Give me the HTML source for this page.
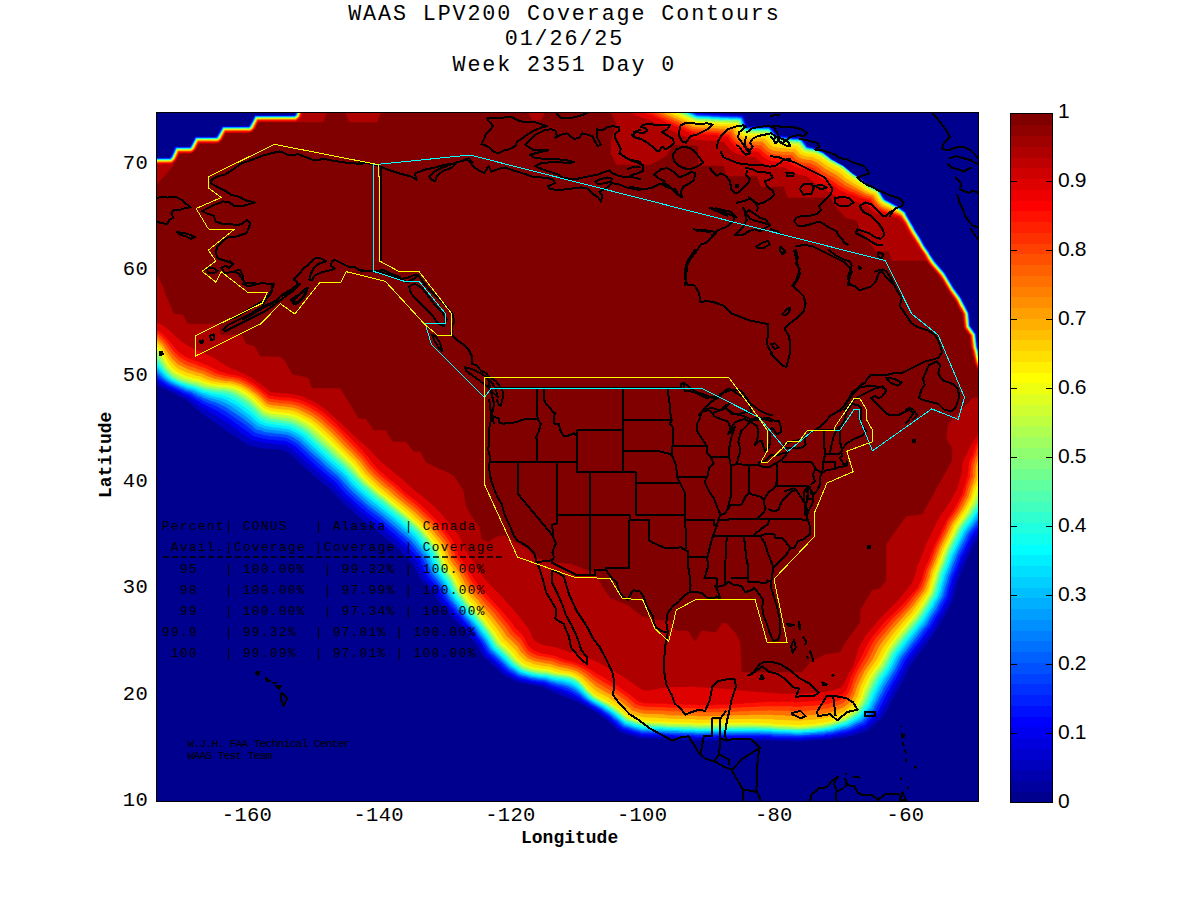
<!DOCTYPE html>
<html><head><meta charset="utf-8"><style>
html,body{margin:0;padding:0;background:#fff;}
body{width:1200px;height:900px;position:relative;overflow:hidden;}
.t{position:absolute;left:-2.6px;width:1134px;text-align:center;font-family:"Liberation Mono",monospace;font-size:21.7px;letter-spacing:1.9px;color:#000;white-space:pre;line-height:26px;}
.yl{position:absolute;left:90px;width:58px;text-align:right;font-family:"Liberation Mono",monospace;font-size:20.5px;letter-spacing:0.3px;line-height:23px;color:#000;}
.xl{position:absolute;top:804px;width:80px;text-align:center;font-family:"Liberation Mono",monospace;font-size:20.5px;letter-spacing:0.3px;line-height:23px;color:#000;}
.cbl{position:absolute;left:1058px;font-family:"Liberation Sans",sans-serif;font-size:21px;letter-spacing:-0.4px;line-height:23px;color:#000;}
.ax{position:absolute;font-family:"Liberation Mono",monospace;font-weight:bold;font-size:18px;line-height:20px;color:#000;white-space:pre;}
svg{position:absolute;left:0;top:0;}
</style></head><body>
<svg width="1200" height="900" viewBox="0 0 1200 900">
<defs><clipPath id="pc"><rect x="157" y="113" width="821" height="688"/></clipPath></defs>
<g clip-path="url(#pc)">
<rect x="150" y="100" width="840" height="710" fill="#00008f"/>
<path fill="#0000bf" d="M154.2 157.8 154.2 384.2 167.8 390.8 168.8 390.8 186.2 399.8 202.8 414.2 222.8 427.8 224.2 429.2 248.8 445.2 251.2 446.2 256.2 446.8 256.8 447.2 258.8 447.2 261.8 448.2 282.8 449.8 289.2 453.2 313.8 475.8 329.2 488.2 342.2 502.2 357.2 515.8 380.2 533.2 398.8 548.8 413.8 565.2 420.8 579.8 432.8 592.8 440.2 604.2 463.2 628.8 469.2 635.8 476.8 645.8 482.8 655.8 504.2 675.8 517.8 682.2 519.8 682.2 520.2 682.8 522.2 682.8 522.8 683.2 524.8 683.2 525.2 683.8 527.2 683.8 530.2 684.8 532.8 684.8 533.2 685.2 542.8 686.8 553.2 692.2 554.2 692.2 561.8 695.8 562.8 695.8 572.8 700.2 576.2 701.2 586.2 706.2 593.8 711.2 597.8 713.2 608.2 721.2 620.2 732.2 639.8 738.2 662.8 738.8 663.2 739.2 677.8 739.2 678.2 739.8 692.8 739.8 693.2 740.2 770.2 740.2 770.8 740.8 790.2 740.8 790.8 741.2 803.8 741.2 804.2 740.8 811.2 740.8 811.8 740.2 831.8 739.2 832.2 738.8 835.2 738.8 838.8 737.8 841.8 737.8 842.2 737.2 845.2 737.2 845.8 736.8 850.8 736.2 867.2 730.8 872.2 726.8 883.8 715.8 885.2 712.2 886.2 711.2 897.2 690.8 898.2 689.8 900.2 685.2 901.2 684.2 910.8 664.8 935.8 631.2 943.8 616.8 944.8 615.8 953.2 599.2 953.2 597.8 954.8 593.8 956.2 586.8 957.2 584.8 957.8 581.2 966.2 560.8 966.2 559.8 976.8 538.8 980.8 533.8 980.8 357.8 980.2 357.2 979.2 351.2 977.8 346.8 976.2 333.8 970.2 325.2 969.2 312.8 961.2 297.2 954.2 287.8 945.2 272.8 935.8 261.8 930.2 253.8 929.8 252.2 924.8 245.2 920.8 237.8 915.2 229.2 914.2 226.8 907.2 215.2 905.8 211.8 897.2 205.2 885.2 198.8 879.2 189.2 869.2 184.8 863.8 180.2 852.2 172.8 843.2 165.2 832.2 159.2 823.2 151.8 815.8 147.8 814.2 147.8 812.2 146.8 807.8 145.8 802.2 137.8 778.2 134.8 770.2 125.8 748.2 125.8 747.2 124.8 743.8 114.8 730.2 114.2 729.8 113.8 721.2 113.8 720.8 113.2 712.2 113.2 711.8 112.8 703.2 112.8 702.8 112.2 697.8 112.2 694.2 110.2 296.8 110.2 295.8 111.8 295.2 114.2 294.2 115.2 254.8 115.2 248.8 126.2 222.2 126.2 216.2 136.8 195.2 136.8 189.8 146.8 175.2 146.8 172.8 151.8 172.8 152.8 169.8 157.8Z"/>
<path fill="#0000ef" d="M154.2 157.8 154.2 380.2 159.2 382.8 161.8 384.8 163.8 385.2 164.8 386.2 174.8 391.2 175.8 391.2 185.2 396.2 188.2 397.2 195.2 402.8 196.8 403.2 198.8 405.2 217.2 416.2 235.8 428.8 242.2 433.8 245.2 435.2 251.8 440.2 260.2 441.8 262.8 442.8 271.8 443.2 275.2 444.2 284.8 444.8 292.8 449.2 308.2 463.8 321.2 474.8 322.8 476.8 331.8 483.8 345.2 498.2 350.2 502.2 359.8 511.2 383.2 529.2 401.8 544.8 405.8 548.8 406.8 550.8 417.8 562.8 418.8 565.8 424.2 576.2 424.2 577.2 436.2 590.8 437.8 593.8 442.8 600.8 443.2 602.2 451.2 610.8 452.2 612.8 459.2 619.8 471.8 633.8 473.8 637.2 479.8 644.8 485.8 654.8 488.8 657.8 491.8 659.8 505.8 673.2 510.2 675.2 516.8 679.2 520.2 679.8 523.8 681.2 530.8 682.2 531.2 682.8 533.8 682.8 534.2 683.2 536.2 683.2 539.2 684.2 542.8 684.2 549.2 687.2 550.2 687.2 553.8 689.2 558.2 690.2 559.8 691.2 563.8 692.2 569.8 695.2 570.8 695.2 573.8 697.2 574.8 697.2 575.8 698.2 577.8 698.8 594.2 709.2 599.2 711.8 609.2 719.2 618.2 727.8 621.8 730.2 632.2 733.8 635.8 734.2 639.8 735.8 642.2 735.8 642.8 736.2 663.8 736.8 664.2 737.2 678.8 737.2 679.2 737.8 693.8 737.8 694.2 738.2 771.2 738.2 771.8 738.8 791.2 738.8 791.8 739.2 803.2 739.2 803.8 738.8 810.2 738.8 810.8 738.2 830.8 737.2 832.2 736.2 846.8 734.2 866.2 727.2 880.2 713.8 881.8 709.8 887.2 700.8 887.8 698.8 888.8 697.8 890.8 693.2 894.2 687.8 896.2 683.2 897.8 681.8 907.2 662.8 932.8 628.8 938.2 618.8 941.8 613.8 949.8 598.2 949.8 596.8 951.2 592.8 952.8 585.8 953.8 583.8 954.2 580.2 962.8 559.8 962.8 558.8 973.8 536.8 980.8 528.2 980.8 357.8 980.2 357.2 979.2 351.2 977.8 346.8 976.2 333.8 970.2 325.2 969.2 312.8 961.2 297.2 954.2 287.8 945.2 272.8 935.8 261.8 930.2 253.8 929.8 252.2 924.8 245.2 920.8 237.8 915.2 229.2 914.2 226.8 907.2 215.2 905.8 211.8 897.2 205.8 885.2 199.2 883.8 197.8 879.2 189.8 875.2 187.8 873.2 187.2 872.8 186.2 869.2 184.8 863.8 180.2 852.2 172.8 843.2 165.2 832.2 159.2 823.2 151.8 820.8 151.2 815.8 148.2 807.2 146.2 801.8 138.2 777.8 135.2 769.8 126.2 753.2 126.2 752.8 126.8 748.2 126.8 746.2 124.8 743.2 115.8 697.2 113.2 691.2 110.2 296.8 110.2 295.8 111.8 295.2 114.2 294.2 115.2 254.8 115.2 248.8 126.2 222.2 126.2 216.2 136.8 195.2 136.8 189.8 146.8 175.2 146.8 172.8 151.8 172.8 152.8 169.8 157.8Z"/>
<path fill="#0020ff" d="M154.2 158.2 154.2 376.8 167.8 385.8 170.8 386.8 183.8 393.2 189.8 395.2 191.2 396.8 192.8 397.2 196.8 400.2 199.2 401.2 200.8 402.8 217.8 411.2 228.8 418.2 253.8 436.2 262.8 438.2 263.2 438.8 266.2 438.8 268.8 439.8 274.8 439.8 275.2 440.2 284.8 440.8 290.2 443.2 295.8 446.8 318.8 468.2 335.2 481.8 345.2 493.2 361.8 508.2 363.8 509.2 366.8 512.2 385.2 526.2 407.2 545.2 409.2 548.2 417.8 557.2 420.8 561.2 421.2 563.2 427.2 575.8 438.8 589.2 445.2 600.2 447.8 602.8 448.8 604.8 453.2 609.2 454.2 611.2 460.8 617.8 473.8 632.8 479.8 640.8 487.2 652.8 506.8 671.2 519.2 678.2 527.8 679.8 531.8 681.2 535.2 681.2 535.8 681.8 544.2 682.8 552.2 686.2 556.8 687.2 560.2 688.8 561.8 688.8 563.2 689.8 569.2 691.8 578.2 696.8 584.2 701.2 588.2 703.2 589.8 704.8 599.8 710.2 610.2 717.8 619.2 726.2 620.8 726.8 622.8 728.8 641.2 734.2 663.2 734.8 663.8 735.2 672.8 735.2 673.2 735.8 679.2 735.8 679.8 736.2 694.2 736.2 694.8 736.8 715.2 736.8 715.8 736.2 770.2 736.2 772.8 737.2 802.8 737.8 803.2 737.2 823.2 736.2 826.2 735.2 830.8 735.2 831.2 734.8 836.8 734.2 838.2 733.2 846.2 732.2 848.2 731.2 849.8 731.2 852.2 729.8 854.8 729.2 862.2 725.8 863.2 725.8 865.2 724.8 877.8 711.8 888.2 691.2 889.2 690.2 893.8 681.2 895.2 679.8 899.8 670.8 900.8 669.8 905.2 660.2 913.8 648.8 919.2 642.2 927.2 630.8 930.8 626.8 936.2 616.8 939.8 611.8 947.2 597.2 949.2 588.8 951.2 583.2 951.8 579.8 960.2 559.2 960.2 558.2 971.8 535.2 980.8 523.8 980.8 360.2 980.2 359.8 980.2 358.2 978.8 353.8 978.8 351.8 977.2 347.2 975.8 334.2 969.8 325.8 968.8 313.2 960.8 297.8 953.8 288.2 944.8 273.2 935.2 262.2 929.8 254.2 929.2 252.8 924.2 245.8 920.2 238.2 914.8 229.8 913.8 227.2 906.8 215.8 905.2 212.2 896.8 205.8 884.8 199.2 878.8 189.8 868.8 185.2 862.2 179.8 850.2 171.8 843.2 165.8 832.2 159.8 827.8 155.8 826.8 155.8 822.8 152.2 817.2 149.2 807.2 146.8 801.8 138.8 795.8 138.2 795.2 137.8 792.8 138.2 792.2 137.8 788.8 137.8 788.2 137.2 778.2 136.2 775.2 133.8 769.8 127.2 747.8 127.2 745.8 125.2 745.8 124.2 744.8 123.2 743.8 119.2 742.2 116.2 738.2 116.2 737.8 115.8 730.2 116.2 729.8 115.8 720.8 115.8 720.2 115.2 711.8 115.2 711.2 114.8 697.2 114.2 689.2 110.2 297.2 110.2 295.8 114.8 294.8 115.8 255.2 115.8 249.2 126.8 222.8 126.8 216.8 137.2 195.8 137.2 190.2 147.2 175.8 147.2 173.2 152.2 173.2 153.2 170.2 158.2Z"/>
<path fill="#0050ff" d="M154.2 158.8 154.2 373.2 161.2 379.2 167.8 383.8 180.2 389.8 182.8 390.2 184.8 391.8 190.2 393.2 197.2 397.8 200.2 398.8 201.2 399.8 207.2 402.8 214.2 405.2 224.8 410.8 242.2 422.8 255.2 432.8 264.2 435.2 266.8 435.2 269.2 436.2 280.8 436.8 281.2 437.2 286.2 437.8 296.8 443.2 327.2 471.2 336.8 478.8 341.8 483.8 343.2 486.2 347.8 491.2 358.8 501.2 361.2 502.8 368.2 509.2 379.8 517.8 395.8 530.8 399.2 534.2 402.8 536.8 411.8 545.8 422.2 558.2 426.8 567.2 426.8 568.2 428.8 571.8 429.2 573.8 439.8 586.2 447.8 599.8 455.2 608.2 457.2 611.2 462.2 616.2 464.8 619.8 474.8 630.8 477.2 634.8 483.2 642.2 489.2 652.2 491.2 654.2 493.2 655.2 508.8 670.2 518.8 676.2 520.2 676.2 522.2 677.2 523.8 677.2 532.2 679.8 544.8 681.2 555.2 685.2 560.8 686.2 568.2 688.8 578.8 694.8 583.2 698.8 588.2 701.8 589.8 703.2 602.2 710.2 611.2 716.8 614.2 719.8 616.2 720.8 623.2 727.2 627.8 728.2 634.2 730.8 637.8 731.2 641.2 732.8 663.2 733.2 663.8 733.8 668.8 733.8 669.2 734.2 694.2 734.8 694.8 735.2 769.8 734.8 772.8 735.8 802.8 736.2 803.2 735.8 824.2 734.8 826.2 733.8 833.2 733.2 835.2 732.2 837.2 732.2 844.2 730.2 846.2 730.2 850.8 728.8 862.2 723.2 863.2 723.2 868.8 717.8 872.2 713.2 875.8 710.2 875.8 709.2 878.8 703.2 879.8 702.2 880.8 699.2 884.2 693.8 884.2 692.8 897.2 670.8 902.8 659.2 912.8 645.8 918.2 639.2 925.2 629.2 928.8 625.2 933.8 616.2 937.2 611.2 941.2 603.2 942.2 602.2 945.8 594.8 945.8 593.2 946.8 591.2 946.8 589.8 949.2 582.2 950.2 577.2 951.2 575.8 951.2 574.8 952.2 573.2 952.2 572.2 953.2 570.8 958.2 557.2 967.8 538.8 967.8 537.8 969.2 534.8 980.8 519.8 980.8 361.8 979.8 359.8 978.2 351.2 976.8 346.8 975.2 333.8 969.2 325.2 968.2 312.8 964.8 305.8 962.8 303.2 960.2 298.2 960.2 297.2 953.2 287.8 944.2 272.8 934.8 261.8 929.2 253.8 928.8 252.2 923.8 245.2 919.8 237.8 914.2 229.2 905.2 212.8 896.8 206.2 884.8 199.8 883.2 198.2 878.8 190.2 869.8 186.2 863.2 180.8 849.8 171.8 842.8 165.8 831.8 159.8 823.2 152.8 822.2 152.8 815.2 148.8 812.8 148.8 812.2 148.2 810.2 148.2 807.2 147.2 804.8 143.8 803.2 142.8 801.2 139.2 799.8 139.2 799.2 138.8 792.2 138.8 791.8 138.2 788.2 138.2 787.8 137.8 777.8 136.8 774.8 134.2 769.2 127.8 747.2 127.8 745.2 125.8 743.2 119.8 741.8 117.2 696.8 114.8 687.2 110.2 297.8 110.2 296.8 111.8 296.2 114.2 294.2 116.2 255.2 116.2 250.2 125.8 248.8 127.2 222.8 127.2 217.8 136.2 216.2 137.8 195.8 137.8 191.2 146.2 189.8 147.8 175.8 147.8 171.8 156.8 169.8 158.8Z"/>
<path fill="#008fff" d="M154.2 158.8 154.2 370.2 164.2 379.2 169.2 382.8 185.8 390.2 191.2 391.8 194.2 393.8 195.2 393.8 198.2 395.8 200.2 396.2 204.8 398.8 207.2 399.2 212.8 401.8 214.2 401.8 225.2 406.8 241.8 417.8 252.8 426.2 255.2 428.8 257.2 429.8 261.8 430.8 265.2 432.2 272.2 432.8 272.8 433.2 275.8 433.2 276.2 433.8 281.8 433.8 282.2 434.2 287.2 434.8 292.8 437.2 299.2 441.2 314.8 455.8 319.8 459.8 326.2 466.2 337.8 475.8 351.8 490.8 366.2 503.8 383.2 516.8 410.2 539.8 424.2 556.2 426.8 560.8 426.8 561.8 428.8 565.2 428.8 566.2 431.8 572.8 442.2 585.8 449.8 598.8 456.8 606.8 457.2 608.2 462.8 613.8 464.2 616.2 469.8 621.8 471.2 624.2 476.8 630.2 477.8 632.2 484.8 641.2 489.8 649.8 509.8 668.8 512.8 670.2 518.2 674.2 522.2 675.8 525.8 676.2 529.8 677.8 537.2 678.8 537.8 679.2 544.8 679.8 551.2 682.2 552.8 682.2 558.8 684.2 562.8 684.8 568.8 686.8 574.8 689.8 581.2 694.8 584.2 697.8 592.2 703.2 600.8 707.8 606.8 712.2 608.2 712.8 615.2 718.8 617.2 719.8 623.8 725.8 641.8 731.2 659.8 731.8 660.2 732.2 664.8 732.2 665.2 732.8 694.2 733.2 694.8 733.8 760.2 733.2 760.8 733.8 772.2 733.8 772.8 734.2 790.8 734.2 791.2 734.8 794.2 734.8 794.8 735.2 809.2 734.8 811.8 733.8 824.2 733.2 827.2 732.2 833.2 731.8 835.2 730.8 839.2 730.2 841.2 729.2 843.2 729.2 849.8 727.2 857.2 723.2 858.2 723.2 862.2 721.2 873.8 708.8 873.8 707.8 876.8 701.8 877.8 700.8 877.8 699.8 880.8 693.8 881.8 692.8 883.2 689.8 883.2 688.8 895.2 669.2 900.2 658.8 922.8 628.8 926.8 624.2 930.2 617.8 936.2 608.8 938.8 603.2 943.2 595.8 943.8 592.2 944.8 590.2 944.8 588.8 947.8 579.8 947.8 578.2 950.8 571.2 952.2 566.2 953.2 564.8 953.2 563.8 954.2 562.2 954.2 561.2 955.2 559.8 955.2 558.8 956.2 557.2 956.2 556.2 967.8 533.2 975.2 523.8 976.2 521.8 978.2 519.8 978.8 518.2 980.8 515.8 980.8 362.2 979.8 360.2 979.8 358.2 979.2 357.8 978.2 351.8 976.8 347.2 975.2 334.2 969.2 325.8 968.2 313.2 960.2 297.8 953.2 288.2 944.2 273.2 934.8 262.2 929.2 254.2 928.8 252.8 923.8 245.8 919.8 238.2 914.2 229.8 913.2 227.2 906.2 215.8 904.8 212.2 901.2 210.2 896.2 206.2 884.8 200.2 883.2 198.8 878.2 190.2 868.8 185.8 863.2 181.2 859.8 179.2 859.2 178.2 849.8 171.8 842.8 165.8 837.8 163.2 834.2 160.8 832.2 160.2 822.8 152.8 821.8 152.8 815.2 149.2 813.2 149.2 811.2 148.2 808.8 148.2 806.2 147.2 800.8 139.8 799.2 139.2 792.2 139.2 791.8 138.8 788.2 138.8 787.8 138.2 777.8 137.2 774.2 134.2 769.2 128.2 746.8 128.2 744.8 126.2 742.2 119.2 741.2 117.8 738.2 117.8 737.8 117.2 720.8 117.2 720.2 116.8 711.8 116.8 711.2 116.2 697.2 115.8 685.8 110.2 297.8 110.2 296.2 114.8 294.8 116.2 255.2 116.2 253.2 120.8 249.2 127.2 222.8 127.2 221.8 129.8 216.8 137.8 195.8 137.8 191.2 146.8 190.2 147.8 176.2 147.8 171.8 157.2 170.2 158.8Z"/>
<path fill="#00bfff" d="M154.2 159.2 154.2 367.2 155.8 368.2 164.2 377.2 171.2 382.2 172.2 382.2 175.2 384.2 176.2 384.2 181.2 386.8 183.8 387.2 186.2 388.8 192.2 390.2 206.2 396.8 220.2 400.8 229.8 405.2 246.2 416.8 258.2 426.8 259.8 426.8 264.8 428.8 268.8 429.2 269.2 429.8 272.8 429.8 273.2 430.2 276.2 430.2 276.8 430.8 281.8 430.8 282.2 431.2 287.2 431.8 290.2 432.8 300.2 438.2 331.2 466.8 339.8 473.8 346.8 480.8 351.2 486.2 371.2 504.2 375.8 507.2 399.2 526.2 402.8 529.8 406.8 532.8 415.2 541.2 426.8 555.2 433.8 571.2 443.2 583.2 450.2 595.8 453.2 599.2 453.8 600.8 477.8 628.8 482.8 636.2 485.8 639.8 491.2 648.8 503.2 659.8 510.2 667.2 511.8 667.8 518.8 672.8 522.2 674.2 523.8 674.2 525.2 675.2 526.8 675.2 531.2 676.8 536.2 677.2 536.8 677.8 546.2 678.8 551.8 680.8 553.2 680.8 557.8 682.2 560.2 682.2 562.8 683.2 564.8 683.2 566.2 684.2 569.2 684.8 574.2 687.2 577.8 689.8 588.2 699.2 597.8 705.2 602.2 707.2 605.2 709.8 606.8 710.2 613.2 714.8 624.8 724.8 641.2 729.8 648.2 729.8 650.8 730.8 678.2 731.2 678.8 731.8 682.8 731.8 683.2 732.2 695.2 732.2 695.8 732.8 703.8 732.8 704.2 732.2 771.2 732.2 771.8 732.8 777.2 732.8 777.8 733.2 791.8 733.2 792.2 733.8 802.2 733.8 802.8 733.2 816.8 732.8 817.2 732.2 820.8 732.2 821.2 731.8 824.8 731.8 825.2 731.2 829.2 731.2 831.2 730.2 833.2 730.2 837.2 728.8 839.2 728.8 841.2 727.8 847.8 726.2 861.8 719.2 869.2 709.8 871.8 707.8 871.8 706.8 876.2 698.2 876.8 696.2 878.2 694.2 878.2 693.2 880.8 689.2 881.2 687.2 885.8 680.2 886.8 677.8 891.8 670.8 898.8 656.8 919.2 629.8 924.8 623.2 941.2 595.2 941.2 593.8 942.8 590.2 943.2 586.8 944.2 584.8 944.2 583.2 945.2 581.2 946.8 574.8 947.8 573.2 947.8 572.2 948.8 570.8 948.8 569.8 949.8 568.2 954.8 554.8 966.2 531.8 971.2 525.8 980.8 512.2 980.8 362.8 979.2 359.8 979.2 358.2 977.8 353.8 977.8 351.8 976.2 347.2 974.8 334.2 968.8 325.8 967.8 313.2 959.8 297.8 952.8 288.2 943.8 273.2 934.2 262.2 928.8 254.2 928.2 252.8 923.2 245.8 919.2 238.2 913.8 229.8 912.8 227.2 905.8 215.8 904.2 212.2 896.8 206.8 893.8 205.8 890.2 203.2 884.2 200.2 882.8 198.8 878.2 190.8 868.8 186.2 866.8 184.2 862.2 181.2 861.8 180.2 851.8 173.8 850.8 172.2 843.2 166.2 831.8 160.2 827.2 156.2 826.2 156.2 822.8 153.2 815.8 149.8 813.8 149.8 813.2 149.2 806.2 147.8 800.8 140.2 799.2 139.8 795.2 139.8 794.8 139.2 794.2 139.8 792.2 139.8 791.8 139.2 788.2 139.2 787.8 138.8 777.2 137.8 768.8 128.8 749.8 128.8 749.2 129.2 747.8 129.2 744.2 126.8 742.2 120.8 740.8 118.2 737.8 118.2 737.2 117.8 735.8 117.8 735.2 118.2 729.2 118.2 728.8 117.8 719.8 117.8 719.2 117.2 710.8 117.2 710.2 116.8 696.2 116.2 684.2 110.2 298.2 110.2 296.8 114.8 294.8 116.8 255.8 116.8 250.8 126.2 249.2 127.8 223.2 127.8 218.2 136.8 216.8 138.2 196.2 138.2 191.8 146.8 190.2 148.2 176.2 148.2 172.2 157.2 170.2 159.2Z"/>
<path fill="#00efff" d="M154.2 159.2 154.2 364.2 157.2 366.8 160.8 371.2 166.8 377.2 170.8 380.2 178.8 384.2 189.8 388.2 193.2 388.8 202.8 393.2 204.2 393.2 212.8 396.2 214.8 396.2 215.2 396.8 220.8 397.8 226.2 399.8 237.8 406.2 249.8 415.2 256.8 421.8 260.8 424.2 263.2 424.8 264.8 425.8 271.2 426.8 271.8 427.2 280.8 427.8 281.2 428.2 288.8 429.2 297.2 433.2 302.2 436.2 329.8 461.8 342.2 472.2 347.8 477.8 349.2 480.2 354.2 485.8 364.2 494.8 393.8 518.2 414.2 536.2 428.8 553.8 431.8 559.8 431.8 560.8 435.8 570.2 444.8 581.8 450.8 591.8 452.2 595.2 454.8 598.8 459.2 603.8 462.2 608.2 466.2 612.2 467.2 614.2 478.8 627.2 479.8 629.2 486.8 638.2 493.2 648.8 511.8 666.2 519.8 671.8 528.2 674.8 529.8 674.8 532.2 675.8 534.8 675.8 535.2 676.2 537.8 676.2 538.2 676.8 545.8 677.2 555.8 680.2 561.8 680.8 570.8 683.2 577.2 687.2 588.8 698.2 594.8 702.2 602.8 706.2 611.8 712.2 625.8 723.8 628.8 724.2 635.2 726.8 638.8 727.2 642.2 728.8 662.8 729.2 665.8 730.2 679.8 730.2 680.2 730.8 694.2 730.8 694.8 731.2 763.8 730.8 764.2 731.2 772.2 731.2 772.8 731.8 786.8 731.8 787.2 732.2 792.8 732.2 793.2 732.8 801.8 732.8 802.2 732.2 815.2 731.8 818.2 730.8 823.8 730.8 826.2 729.8 829.8 729.8 847.2 724.8 860.2 717.8 870.2 705.8 870.2 704.8 879.8 685.2 880.8 684.2 883.8 678.2 887.2 673.8 887.8 672.2 891.2 667.2 896.2 656.8 907.2 641.8 923.2 621.8 930.8 609.2 932.8 606.8 935.2 601.2 937.2 598.8 940.8 590.2 941.2 586.8 942.2 584.8 942.2 583.2 943.2 581.2 944.8 574.8 945.8 573.2 945.8 572.2 946.8 570.8 946.8 569.8 947.8 568.2 952.8 554.8 964.8 530.8 973.2 519.8 977.2 513.2 980.8 508.8 980.8 363.2 979.2 360.2 979.2 358.8 977.8 354.2 977.8 352.2 976.2 347.8 974.8 334.8 968.8 326.2 967.8 313.8 959.8 298.2 952.8 288.8 943.8 273.8 934.2 262.8 928.8 254.8 928.2 253.2 923.2 246.2 919.2 238.8 913.8 230.2 912.8 227.8 905.8 216.2 904.2 212.8 896.2 206.8 894.2 206.2 893.2 205.2 883.8 200.2 877.8 190.8 868.2 186.2 866.2 184.8 865.2 183.2 849.8 172.2 842.8 166.2 837.8 163.8 834.2 161.2 831.2 160.2 824.8 154.8 823.8 154.8 822.2 153.2 814.8 149.8 809.8 149.2 805.8 147.8 801.8 142.2 799.2 140.2 788.2 139.8 787.8 139.2 777.2 138.2 773.2 134.8 768.8 129.2 750.8 129.2 750.2 129.8 746.2 129.2 743.8 126.8 743.2 124.8 742.2 123.8 740.8 118.8 728.8 118.8 728.2 118.2 719.2 118.2 718.8 117.8 710.2 117.8 709.8 117.2 695.8 116.8 692.2 114.8 691.2 114.8 688.2 112.8 687.2 112.8 682.2 110.2 298.2 110.2 296.8 115.2 295.2 116.8 255.8 116.8 253.8 121.2 249.8 127.8 223.2 127.8 222.2 130.2 217.2 138.2 196.2 138.2 191.8 147.2 190.8 148.2 176.8 148.2 172.2 157.8 170.8 159.2Z"/>
<path fill="#20ffdf" d="M154.2 159.8 154.2 360.8 167.2 375.8 171.8 379.2 179.8 383.2 186.8 385.2 188.2 386.2 189.8 386.2 196.2 388.2 204.2 391.8 207.8 392.2 209.8 393.2 216.8 394.2 217.2 394.8 219.8 394.8 228.2 397.2 234.2 400.2 242.8 405.8 252.2 413.2 260.2 420.8 261.2 420.8 266.2 423.2 268.2 423.2 270.8 424.2 274.2 424.2 277.2 425.2 282.2 425.2 282.8 425.8 288.2 426.2 298.2 430.8 304.8 434.8 328.2 456.8 342.8 469.2 358.2 485.8 374.8 500.2 379.2 503.2 400.8 520.8 416.2 534.8 431.2 553.2 434.2 559.8 437.2 568.2 439.2 570.8 439.8 572.2 442.2 574.8 444.2 578.2 447.2 581.8 453.2 593.2 455.8 596.2 456.2 597.8 460.2 602.2 463.2 606.8 466.8 610.2 468.2 612.8 474.8 619.8 478.2 624.8 480.8 627.2 481.8 629.2 488.8 638.2 493.8 646.8 505.2 657.2 512.2 664.8 519.8 670.2 525.8 672.8 527.2 672.8 533.2 674.8 535.8 674.8 539.2 675.8 547.2 676.2 549.2 677.2 555.8 678.2 556.2 678.8 562.8 679.2 571.8 681.8 576.2 684.2 580.8 688.2 589.2 697.2 594.2 700.8 603.2 705.2 608.8 709.2 610.2 709.8 611.8 711.2 615.2 713.2 626.2 722.8 629.8 723.2 641.8 727.2 648.8 727.2 651.2 728.2 664.2 728.2 664.8 728.8 671.8 728.8 672.2 729.2 695.2 729.8 695.8 730.2 716.2 730.2 716.8 729.8 770.8 729.8 773.8 730.8 790.8 730.8 791.2 731.2 794.2 731.2 794.8 731.8 801.2 731.8 801.8 731.2 808.2 731.2 811.2 730.2 817.2 730.2 817.8 729.8 822.8 729.8 825.2 728.8 828.8 728.8 830.8 727.8 832.8 727.8 836.2 726.2 845.8 723.8 859.2 716.2 862.8 712.2 866.2 706.8 868.2 704.8 872.2 696.2 872.2 695.2 879.2 681.2 890.2 664.8 895.2 654.2 905.8 640.2 915.2 628.8 918.2 624.2 921.2 621.2 922.8 618.2 924.2 616.8 927.2 611.2 930.2 607.2 933.8 600.2 935.8 597.8 937.8 593.8 937.8 592.2 939.2 588.8 939.2 587.2 941.8 579.8 942.8 574.8 943.8 573.2 943.8 572.2 944.8 570.8 944.8 569.8 945.8 568.2 950.8 554.8 962.2 532.2 962.2 531.2 973.8 515.8 980.8 504.8 980.8 364.2 978.8 359.8 978.8 358.2 977.2 353.8 977.2 351.8 975.8 347.2 974.2 334.2 968.2 325.8 967.2 313.2 959.8 298.8 952.2 288.2 943.2 273.2 941.2 270.8 939.2 269.2 932.8 261.2 932.2 259.8 919.8 240.8 918.8 238.2 909.8 223.8 904.2 213.2 896.2 207.2 884.2 200.8 882.2 198.8 881.8 197.2 877.2 190.8 868.8 186.8 860.2 179.8 851.2 173.8 847.2 169.8 842.8 166.2 831.2 160.2 822.8 153.8 820.8 153.2 818.8 151.8 815.2 150.2 813.2 150.2 810.8 149.2 808.2 149.2 805.8 148.2 800.8 141.8 799.2 140.8 795.2 140.8 794.8 140.2 791.2 140.2 790.8 139.8 788.8 140.2 788.2 139.8 784.2 139.8 783.8 139.2 780.2 139.2 779.8 138.8 776.2 138.2 768.8 129.8 750.8 129.8 750.2 130.2 746.2 129.8 745.2 129.2 742.8 126.2 740.2 119.2 739.8 119.8 738.2 119.2 728.2 119.2 727.8 118.8 720.8 119.2 720.2 118.8 711.8 118.8 711.2 118.2 697.2 117.8 680.8 110.2 298.8 110.2 296.8 115.8 294.8 117.2 255.8 117.2 251.2 126.2 249.2 128.2 223.2 128.2 218.2 137.8 216.8 138.8 196.2 138.8 191.2 148.2 190.2 148.8 176.8 148.8 172.8 157.2 170.2 159.8Z"/>
<path fill="#50ffaf" d="M154.2 159.8 154.2 357.8 159.2 363.2 165.2 371.8 171.8 377.8 178.2 381.2 189.8 385.2 193.8 385.8 198.2 387.8 202.2 388.8 203.8 389.8 207.8 390.2 212.8 391.8 215.2 391.8 215.8 392.2 222.8 392.8 229.8 394.8 236.2 397.8 244.8 403.2 251.8 408.8 260.8 417.8 262.8 418.8 263.8 418.8 266.2 420.2 267.8 420.2 272.2 421.8 275.2 421.8 278.8 422.8 283.2 422.8 283.8 423.2 286.2 423.2 286.8 423.8 290.8 424.2 299.2 428.2 305.8 432.2 321.2 446.8 326.8 451.2 333.8 458.2 343.2 466.2 352.2 475.2 359.8 483.8 376.2 498.2 380.8 501.2 402.8 519.2 416.8 531.8 429.8 547.2 433.2 552.2 439.8 568.2 449.2 581.2 454.2 591.2 457.2 595.2 457.8 596.8 461.8 601.2 463.8 604.8 469.2 610.8 470.2 612.8 474.8 617.2 476.2 619.8 480.8 624.8 489.2 636.2 495.2 646.2 505.2 655.2 513.2 663.8 521.2 669.8 531.8 673.2 536.8 673.8 537.2 674.2 540.2 674.2 540.8 674.8 545.8 674.8 552.8 676.8 555.2 676.8 558.8 677.8 563.2 677.8 563.8 678.2 566.2 678.2 566.8 678.8 571.8 679.8 576.2 682.2 579.8 685.2 584.2 690.8 589.8 696.2 595.2 700.2 598.8 701.8 599.8 702.8 600.8 702.8 601.8 703.8 603.8 704.2 607.8 707.2 610.8 708.8 612.2 710.2 615.8 712.2 618.2 714.8 620.2 715.8 624.2 719.8 627.2 721.8 628.8 721.8 635.2 724.2 638.8 724.8 642.8 726.2 665.2 727.2 665.8 727.8 678.2 727.8 681.8 728.8 695.8 728.8 696.2 729.2 755.8 728.2 756.2 728.8 771.8 728.8 772.2 729.2 776.8 729.2 777.2 729.8 803.2 730.2 803.8 729.8 810.2 729.8 810.8 729.2 820.8 728.8 821.2 728.2 827.2 727.8 827.8 727.2 829.8 727.2 833.8 725.8 835.2 725.8 836.8 724.8 838.2 724.8 847.8 721.2 858.2 714.8 861.2 711.2 864.2 706.2 866.2 704.2 869.8 696.8 869.8 695.8 872.2 691.2 872.2 690.2 873.8 688.2 873.8 687.2 876.8 682.2 877.2 680.2 885.8 668.2 888.8 663.2 893.2 653.8 904.8 638.2 920.2 619.2 929.2 605.2 932.2 599.2 934.2 596.8 937.2 589.2 937.8 585.8 940.2 578.8 941.2 573.8 942.2 572.2 942.2 571.2 943.2 569.8 943.2 568.8 944.2 567.2 949.2 553.8 961.8 528.8 972.2 514.8 979.2 503.8 979.2 502.8 980.8 500.2 980.8 364.8 978.8 360.2 978.8 358.8 977.2 354.2 977.2 352.2 975.8 347.8 974.2 334.8 968.2 326.2 967.2 313.8 959.2 298.2 952.2 288.8 943.2 273.8 933.8 262.8 928.2 254.8 927.8 253.2 922.8 246.2 918.8 238.8 913.2 230.2 912.2 227.8 905.2 216.2 903.8 212.8 895.8 207.2 884.2 201.2 882.2 199.2 877.8 191.2 868.2 186.8 863.8 183.2 863.2 182.2 857.8 178.8 856.8 177.2 851.8 174.2 842.2 166.2 829.2 159.2 826.8 156.8 825.2 156.2 822.2 153.8 820.2 153.2 815.8 150.8 813.8 150.8 813.2 150.2 805.8 148.8 799.8 141.2 795.8 141.2 795.2 140.8 791.2 140.8 790.8 140.2 786.8 140.2 786.2 139.8 784.8 140.2 784.2 139.8 780.2 139.8 779.8 139.2 776.2 138.8 768.2 130.2 750.2 130.2 749.8 130.8 746.2 130.2 742.8 127.2 742.2 125.2 740.8 122.8 740.2 120.2 738.2 120.2 737.8 119.8 728.2 119.8 727.8 119.2 727.2 119.8 720.2 119.8 719.8 119.2 710.8 119.2 710.2 118.8 696.8 118.2 679.2 110.2 298.8 110.2 297.2 115.2 295.2 117.2 256.2 117.2 251.2 126.8 249.8 128.2 223.8 128.2 218.8 137.2 217.2 138.8 196.8 138.8 192.2 147.2 190.8 148.8 176.8 148.8 172.8 157.8 170.8 159.8Z"/>
<path fill="#8fff70" d="M154.2 160.2 154.2 354.8 159.2 360.2 166.2 370.8 173.2 377.2 179.2 380.2 186.2 382.8 187.8 382.8 189.2 383.8 191.2 383.8 191.8 384.2 197.2 385.2 198.8 386.2 206.8 388.8 209.2 388.8 212.2 389.8 216.2 389.8 216.8 390.2 225.2 390.8 225.8 391.2 227.8 391.2 231.2 392.2 232.8 393.2 236.2 394.2 247.2 401.2 252.2 405.2 262.2 415.2 270.8 418.8 279.8 419.8 280.2 420.2 283.8 420.2 284.2 420.8 286.8 420.8 287.2 421.2 291.2 421.8 301.8 426.8 307.2 430.2 322.8 444.8 328.2 449.2 335.2 456.2 345.2 464.8 364.2 484.8 367.2 486.8 378.2 496.8 382.8 499.8 393.8 509.2 405.2 518.2 413.2 525.2 421.8 533.8 423.2 536.2 426.2 539.2 434.8 550.2 438.8 559.2 441.2 566.8 450.2 579.2 456.8 592.2 463.8 601.2 464.2 602.8 469.8 608.8 473.2 613.8 476.8 617.2 477.8 619.2 480.8 622.2 489.2 633.8 492.8 639.8 496.2 644.2 496.8 645.8 500.2 648.2 514.2 662.8 522.2 668.8 532.8 672.2 534.8 672.2 537.8 673.2 540.8 673.2 541.2 673.8 546.8 673.8 551.8 675.2 557.8 675.8 558.2 676.2 567.2 676.8 572.2 678.2 578.2 681.8 579.2 683.2 581.2 684.8 585.8 690.8 593.2 697.8 611.2 707.8 618.2 713.2 620.2 714.2 623.8 717.8 627.8 720.8 629.8 720.8 641.8 724.8 650.8 725.2 651.2 725.8 661.8 725.8 662.2 726.2 665.8 726.2 666.2 726.8 693.2 727.2 693.8 727.8 762.8 727.2 763.2 727.8 772.2 727.8 772.8 728.2 779.2 728.2 779.8 728.8 802.8 729.2 803.2 728.8 809.8 728.8 810.2 728.2 816.2 728.2 819.8 727.2 823.8 727.2 826.2 726.2 828.8 726.2 832.8 724.8 834.2 724.8 846.8 720.2 856.8 713.8 858.2 712.2 863.8 703.8 865.2 702.2 865.2 701.2 868.2 695.2 868.8 692.8 872.8 685.2 873.8 682.2 879.2 673.2 881.2 671.2 885.2 665.2 891.2 653.2 902.2 638.2 918.8 618.2 919.2 616.8 920.8 615.2 925.8 606.8 927.2 605.2 930.2 599.2 932.2 596.8 935.8 588.2 936.2 584.8 937.2 582.8 937.2 581.2 938.2 579.8 938.2 578.2 940.2 571.8 941.2 570.2 941.2 569.2 942.2 567.8 942.2 566.8 943.2 565.2 948.2 551.8 960.2 527.8 971.8 512.2 972.2 510.8 976.8 504.2 980.8 495.8 980.8 365.2 978.8 361.8 978.8 360.2 976.8 353.8 976.2 349.2 974.8 344.2 973.8 334.2 968.8 327.8 967.8 325.2 966.8 313.2 959.2 298.8 952.2 289.2 944.2 275.8 932.2 261.2 922.8 246.8 918.8 239.2 909.8 224.8 903.8 213.2 896.2 207.8 883.8 201.2 881.8 199.2 877.2 191.2 874.2 189.8 873.2 189.8 871.2 188.2 867.8 186.8 864.8 183.8 860.2 180.8 856.2 177.2 852.8 175.2 852.2 174.2 849.8 172.8 842.8 166.8 831.2 160.8 821.8 153.8 820.8 153.8 814.8 150.8 807.2 149.8 805.2 148.8 802.8 145.2 801.2 144.2 799.8 141.8 795.8 141.8 795.2 141.2 791.2 141.2 790.8 140.8 787.2 140.8 786.8 140.2 782.8 140.2 782.2 139.8 776.2 139.2 772.2 135.8 768.2 130.8 749.2 130.8 748.8 131.2 745.8 130.8 742.8 128.2 740.8 124.2 739.8 120.8 738.2 120.8 737.8 120.2 719.8 120.2 719.2 119.8 710.8 119.8 710.2 119.2 696.2 118.8 677.8 110.2 299.2 110.2 297.2 115.8 294.8 117.8 256.2 117.8 251.2 127.2 250.2 128.2 248.8 128.8 223.8 128.8 218.8 137.8 216.8 139.2 196.8 139.2 192.2 147.8 190.2 149.2 176.8 149.2 172.8 158.2 171.2 159.8 169.8 160.2Z"/>
<path fill="#bfff40" d="M154.2 160.2 154.2 351.2 156.8 353.2 160.2 357.8 167.2 368.8 172.8 374.2 179.8 378.2 191.8 382.2 197.8 383.2 199.2 384.2 206.8 386.8 211.8 387.2 214.8 388.2 225.2 388.8 225.8 389.2 230.2 389.8 234.8 391.2 243.2 395.8 250.2 400.8 263.2 413.2 271.2 416.2 290.2 418.8 294.8 420.2 302.8 424.2 309.8 428.8 334.8 451.8 336.2 453.8 343.2 459.8 354.8 471.2 356.2 473.8 365.2 483.2 379.8 495.8 384.8 499.2 390.2 504.2 404.2 515.2 421.2 530.8 432.8 544.8 436.2 549.8 439.8 557.2 442.2 565.2 452.2 579.2 458.2 591.2 461.2 595.8 464.8 599.8 465.2 601.2 483.8 623.2 484.8 625.2 492.2 634.8 497.8 643.8 508.8 653.8 515.2 661.2 518.2 663.2 520.8 665.8 524.2 667.8 533.2 670.8 538.2 671.2 538.8 671.8 542.2 671.8 542.8 672.2 546.8 672.2 553.8 674.2 556.2 674.2 559.8 675.2 567.8 675.8 569.8 676.8 572.8 677.2 577.2 679.8 584.2 686.8 585.8 689.2 593.8 696.8 610.2 705.8 617.8 710.8 627.8 719.2 630.8 719.8 635.8 721.8 639.2 722.2 643.2 723.8 659.8 724.2 660.2 724.8 665.8 724.8 666.2 725.2 693.2 725.8 693.8 726.2 759.2 725.8 759.8 726.2 771.8 726.2 772.2 726.8 775.8 726.8 776.2 727.2 791.2 727.2 794.2 728.2 800.8 728.2 801.2 727.8 808.2 727.8 811.8 726.8 820.8 726.2 821.2 725.8 823.8 725.8 824.2 725.2 830.8 724.2 843.8 719.8 846.8 718.2 856.8 711.2 863.2 701.2 864.8 696.8 867.2 691.8 867.2 690.8 870.2 685.2 870.2 684.2 877.2 672.2 882.8 665.2 885.2 660.2 886.2 659.2 890.2 650.8 910.8 624.2 916.8 617.8 917.2 616.2 918.8 614.8 923.8 607.2 924.2 605.8 925.8 604.2 928.2 599.2 932.2 593.2 938.8 571.2 939.8 569.8 939.8 568.8 940.8 567.2 940.8 566.2 941.8 564.8 946.8 551.2 958.8 527.2 966.2 517.2 974.8 503.8 980.8 489.8 980.8 366.2 978.8 362.2 977.8 357.2 977.2 356.8 976.8 352.2 976.2 351.8 976.2 350.2 975.2 347.8 975.2 345.2 974.8 344.8 973.8 334.8 972.2 333.2 967.8 326.2 966.8 313.8 962.2 306.2 958.8 298.8 952.2 289.8 944.2 276.2 931.8 261.2 927.8 254.2 922.8 247.2 918.8 239.8 909.2 224.8 908.2 221.8 906.8 220.2 903.2 213.2 898.2 210.2 895.2 207.8 894.2 207.8 885.2 202.2 883.2 201.8 881.2 199.8 881.2 198.8 876.8 191.8 868.8 188.2 865.2 185.8 862.2 182.8 857.2 179.8 855.2 177.8 849.2 173.8 843.8 168.8 833.8 163.2 832.8 162.2 830.8 161.8 821.2 154.8 814.2 151.8 811.8 151.8 811.2 151.2 805.2 150.2 803.2 148.8 801.8 146.2 799.2 143.2 798.2 142.8 791.2 142.8 790.8 142.2 786.8 142.2 786.2 141.8 776.2 140.8 774.2 139.8 767.2 132.2 746.2 132.2 744.8 131.8 741.2 128.2 739.2 124.2 738.8 121.8 728.2 121.8 727.8 121.2 721.8 121.2 721.2 121.8 720.8 121.2 711.2 121.2 710.8 120.8 697.2 120.2 696.8 119.8 695.2 119.8 674.8 110.2 299.8 110.2 298.2 113.2 297.8 115.8 295.8 117.8 256.2 117.8 251.2 127.8 249.8 128.8 224.2 128.8 219.2 137.8 217.8 139.2 196.8 139.2 192.8 146.8 192.8 147.8 191.2 149.2 177.2 149.2 172.8 158.8 170.8 160.2Z"/>
<path fill="#efff10" d="M154.2 160.8 154.2 347.2 158.8 351.8 161.8 355.8 168.2 366.8 174.2 372.8 184.2 377.8 187.2 378.2 192.2 380.2 198.2 381.2 208.8 385.2 211.2 385.2 214.8 386.2 218.2 386.2 218.8 386.8 228.2 387.2 236.8 389.8 244.2 393.8 251.2 398.8 263.8 410.8 271.2 413.8 288.8 415.8 295.8 417.8 307.2 423.8 316.2 430.8 351.8 464.8 362.2 477.8 363.8 478.8 366.2 481.8 379.8 493.8 384.2 496.8 395.8 506.8 407.2 515.8 410.8 519.2 414.8 522.2 424.8 532.2 438.2 549.8 444.2 565.2 453.2 577.8 459.2 589.8 462.2 594.2 465.8 598.2 468.2 602.2 473.2 607.8 474.8 610.2 478.8 614.2 480.2 616.8 485.2 622.2 486.2 624.2 493.8 633.8 496.2 638.2 498.8 641.2 499.2 642.8 508.8 651.2 516.2 659.8 522.2 664.8 526.2 666.8 533.8 669.2 536.2 669.2 539.2 670.2 546.8 670.8 555.8 673.2 567.8 674.8 569.8 675.8 572.8 676.2 578.8 679.8 583.8 684.8 585.8 687.8 594.2 695.8 610.8 704.8 618.2 709.8 627.8 717.8 636.8 720.8 640.2 721.2 642.2 722.2 649.8 722.2 650.2 722.8 665.8 723.2 666.2 723.8 693.2 724.2 693.8 724.8 755.8 724.2 756.2 724.8 771.2 724.8 774.2 725.8 786.8 725.8 787.2 726.2 793.2 726.2 793.8 726.8 801.2 726.8 801.8 726.2 808.8 726.2 809.2 725.8 814.8 725.8 817.8 724.8 822.2 724.8 824.8 723.8 830.8 722.8 838.2 720.2 846.2 716.8 855.8 709.8 862.2 698.8 865.2 689.8 871.2 677.2 874.8 671.8 877.2 669.2 881.8 662.8 887.8 650.8 897.2 637.8 915.2 616.2 920.8 607.8 922.2 606.2 922.8 604.8 924.2 603.2 927.8 596.8 929.8 594.2 932.8 586.8 932.8 585.2 934.2 581.8 934.2 580.2 935.2 578.8 935.2 577.2 937.2 570.8 938.2 569.2 938.2 568.2 939.2 566.8 939.2 565.8 940.2 564.2 945.2 550.8 956.2 529.2 956.8 527.2 964.8 516.2 972.8 503.2 977.8 491.2 977.8 490.2 978.8 488.8 978.8 487.8 979.8 486.2 979.8 485.2 980.8 483.8 980.8 367.2 977.8 360.8 977.8 358.8 977.2 358.2 976.2 352.2 974.8 347.8 973.2 334.8 971.8 333.2 967.2 326.2 966.2 313.8 958.8 299.2 951.8 289.8 943.8 276.2 931.8 261.8 922.2 247.2 903.2 214.2 901.2 212.2 899.8 211.8 896.8 209.2 882.2 201.8 876.2 192.2 867.2 188.2 861.2 183.2 848.2 174.2 841.2 168.2 829.8 162.2 820.8 155.8 814.8 153.2 810.8 152.8 810.2 152.2 807.2 152.2 803.8 150.8 800.8 147.8 798.2 144.2 794.2 144.2 793.8 143.8 793.2 144.2 791.8 144.2 791.2 143.8 786.8 143.8 786.2 143.2 782.2 143.2 781.8 142.8 775.8 142.2 773.8 141.2 766.8 133.8 746.2 133.8 744.8 133.2 739.8 128.8 737.8 123.2 736.8 122.8 729.2 123.2 728.8 122.8 719.2 122.8 718.8 122.2 709.8 122.2 709.2 121.8 695.8 121.2 681.8 114.8 680.8 114.8 677.2 112.8 676.2 112.8 671.8 110.2 300.2 110.2 298.8 112.8 297.8 116.2 295.2 118.2 256.8 118.2 251.8 127.8 249.8 129.2 224.2 129.2 219.2 138.2 217.2 139.8 197.2 139.8 192.8 148.2 190.8 149.8 177.2 149.8 173.2 158.8 170.8 160.8Z"/>
<path fill="#ffdf00" d="M154.2 161.2 154.2 343.8 155.2 344.2 160.8 350.2 169.2 364.8 172.8 368.8 175.8 371.2 183.8 375.2 189.8 377.2 191.2 377.2 192.8 378.2 198.8 379.2 204.2 381.8 205.8 381.8 211.2 383.8 213.8 383.8 217.2 384.8 221.2 384.8 221.8 385.2 227.8 385.2 228.2 385.8 233.2 386.2 238.8 388.2 245.2 391.8 252.2 396.8 264.8 408.8 271.8 411.2 274.2 411.2 277.8 412.2 282.8 412.2 283.2 412.8 289.2 413.2 289.8 413.8 291.8 413.8 293.8 414.8 295.2 414.8 304.8 419.2 312.8 424.2 328.8 438.8 353.8 463.8 358.8 469.8 359.8 471.8 367.8 480.8 381.8 493.2 384.2 494.8 409.2 515.2 424.8 529.8 439.2 548.2 442.2 554.8 445.2 563.8 454.2 576.2 460.2 588.2 463.2 592.8 466.8 596.8 468.8 600.2 474.2 606.2 475.2 608.2 479.8 612.8 495.2 632.8 501.2 642.2 503.8 643.8 513.8 653.8 516.2 657.2 522.2 662.8 528.2 665.8 534.8 667.8 536.8 667.8 539.8 668.8 547.2 669.2 559.2 672.8 565.2 673.2 565.8 673.8 567.8 673.8 572.8 675.2 578.2 678.2 585.8 685.8 588.8 689.8 594.8 694.8 607.2 701.2 612.2 704.8 613.8 705.2 615.2 706.8 618.2 708.2 629.2 717.2 632.8 717.8 636.2 719.2 637.8 719.2 642.2 720.8 648.8 720.8 649.2 721.2 653.2 721.2 653.8 721.8 665.8 721.8 666.2 722.2 693.2 722.8 693.8 723.2 752.2 722.8 752.8 723.2 769.8 723.2 770.2 723.8 773.2 723.8 773.8 724.2 802.2 725.2 802.8 724.8 809.2 724.8 809.8 724.2 815.2 724.2 818.2 723.2 822.8 723.2 824.8 722.2 827.2 722.2 833.8 720.2 835.2 719.2 837.8 718.8 844.8 715.8 852.8 709.8 855.2 707.2 860.2 698.2 863.2 688.8 869.8 675.2 879.2 662.8 881.8 657.8 882.8 656.8 886.8 648.2 897.8 633.8 909.8 619.2 913.2 615.8 920.8 605.2 921.2 603.8 922.8 602.2 929.2 591.8 935.8 570.2 936.8 568.8 936.8 567.8 937.8 566.2 937.8 565.2 938.8 563.8 943.8 550.2 953.2 531.8 953.2 530.8 955.8 525.8 964.2 513.8 971.8 500.8 975.2 490.2 979.8 479.8 980.2 470.8 980.8 470.2 980.8 368.2 978.2 363.2 976.8 358.2 975.8 351.8 974.2 347.2 972.8 334.8 968.2 328.8 966.8 325.8 965.8 313.2 961.8 306.8 958.2 299.2 951.8 290.2 943.8 276.8 931.2 261.8 927.2 254.8 922.2 247.8 918.2 240.2 915.2 236.2 911.2 228.8 908.8 225.2 903.2 214.8 901.8 213.2 894.8 208.8 893.8 208.8 882.8 202.8 879.8 199.8 878.8 197.2 875.8 192.8 866.8 188.8 861.2 184.2 849.8 176.8 840.8 169.2 829.2 163.2 820.2 156.8 814.2 154.2 804.8 152.8 802.8 151.8 797.2 145.8 794.8 145.8 794.2 145.2 786.8 145.2 786.2 144.8 782.2 144.8 781.8 144.2 778.2 144.2 777.8 143.8 774.2 143.2 773.2 142.8 765.8 134.8 762.2 134.8 761.8 135.2 746.8 135.2 746.2 134.8 744.8 134.8 742.8 133.8 738.8 129.8 736.8 124.2 727.2 124.2 726.8 123.8 725.2 124.2 719.8 124.2 719.2 123.8 701.8 123.2 701.2 122.8 696.2 122.8 695.8 122.2 694.2 122.2 668.8 110.2 301.2 110.2 299.8 111.2 298.2 116.2 294.8 118.8 256.8 118.8 251.8 128.2 249.2 129.8 224.2 129.8 219.8 138.2 218.2 139.8 216.8 140.2 197.2 140.2 192.2 149.2 190.2 150.2 177.2 150.2 173.2 159.2 171.2 160.8 169.8 161.2Z"/>
<path fill="#ffaf00" d="M154.2 161.8 154.2 340.8 156.2 341.8 160.8 346.2 163.8 350.2 164.2 351.8 170.8 361.8 176.8 367.8 179.2 369.2 188.2 373.2 189.8 373.2 196.2 375.8 199.8 376.2 206.2 379.2 212.2 381.2 220.2 382.2 220.8 382.8 224.2 382.8 224.8 383.2 229.8 383.2 238.8 385.8 247.2 390.2 254.8 395.8 265.8 406.2 271.8 408.2 290.2 410.2 297.2 412.2 310.2 418.8 318.8 425.2 330.8 436.2 351.8 457.8 354.8 460.2 365.8 474.2 380.8 488.2 409.2 511.2 425.2 525.8 437.2 540.2 442.2 547.2 445.8 555.2 447.8 561.8 456.8 574.2 463.2 586.8 466.2 591.2 468.2 593.2 470.8 597.2 476.8 603.8 477.8 605.8 482.8 610.8 484.2 613.2 489.8 619.2 499.2 631.8 503.8 638.8 515.8 650.2 518.8 654.8 524.8 660.2 527.2 661.8 528.2 661.8 533.8 664.2 540.2 665.2 540.8 665.8 549.8 666.8 555.2 668.8 556.8 668.8 561.2 670.2 563.2 670.2 563.8 670.8 568.8 671.2 574.8 673.2 580.8 676.8 594.2 689.8 598.8 692.8 608.8 697.8 612.8 700.8 614.2 701.2 624.8 708.8 629.8 713.2 633.2 714.8 634.8 714.8 636.8 715.8 638.2 715.8 642.8 717.2 658.8 717.8 659.2 718.2 666.8 718.2 667.2 718.8 695.2 719.2 695.8 719.8 721.8 719.8 722.2 719.2 760.8 718.8 761.2 719.2 773.2 719.2 773.8 719.8 801.2 720.8 801.8 720.2 808.2 720.2 808.8 719.8 814.8 719.8 817.8 718.8 822.2 718.8 824.8 717.8 827.2 717.8 829.2 716.8 830.8 716.8 843.8 711.8 853.2 704.2 857.8 695.8 860.2 687.8 865.2 676.8 869.8 669.2 876.8 659.8 882.8 647.8 892.8 634.2 906.8 617.8 911.2 613.2 926.8 591.2 929.2 584.8 929.2 583.2 930.2 581.8 930.2 580.2 931.8 576.8 931.8 575.2 933.2 570.8 934.2 569.2 938.2 558.2 939.8 555.8 941.8 549.8 952.8 527.8 953.2 525.8 964.8 508.8 970.8 497.2 973.2 488.8 977.2 479.2 978.2 467.2 979.2 464.8 979.2 462.8 980.8 459.2 980.8 369.2 977.2 361.8 977.2 360.2 976.2 357.8 975.8 352.8 975.2 352.2 975.2 350.8 974.2 348.2 974.2 345.8 973.8 345.2 973.8 341.8 973.2 341.2 972.8 336.2 972.2 334.8 966.8 326.8 965.8 314.2 961.2 306.8 957.8 299.2 951.2 290.2 942.2 275.2 932.2 263.8 928.8 258.8 926.8 254.8 921.8 247.8 919.8 243.8 911.8 231.2 905.2 219.2 901.8 214.2 897.8 211.8 881.8 204.2 878.2 200.8 877.8 199.2 874.2 194.2 869.8 192.8 864.8 190.2 859.2 186.2 855.2 184.2 845.2 177.8 842.8 175.2 837.2 171.2 826.8 165.8 818.8 159.8 816.8 159.2 813.2 157.2 804.8 156.2 803.2 155.2 802.2 155.2 799.8 153.8 795.2 148.8 786.8 148.8 786.2 148.2 777.2 147.8 776.8 147.2 773.2 146.8 770.8 145.2 764.2 138.2 746.2 138.2 745.8 137.8 744.2 137.8 741.2 136.2 738.2 133.8 735.8 130.2 734.8 126.8 727.2 126.8 726.8 126.2 718.2 126.2 717.8 125.8 709.2 125.8 708.8 125.2 694.8 124.8 662.8 110.2 302.2 110.2 300.2 111.2 298.2 116.8 295.8 118.8 261.2 118.8 260.8 119.2 256.8 119.2 252.2 128.2 250.2 129.8 226.8 129.8 226.2 130.2 224.2 130.2 219.8 138.8 217.8 140.2 216.2 140.8 213.2 140.8 212.8 140.2 197.8 140.2 193.2 148.8 192.2 149.8 189.8 150.8 177.8 150.8 173.8 159.2 171.2 161.2Z"/>
<path fill="#ff7000" d="M154.2 162.2 154.2 337.2 157.2 339.2 162.2 344.2 171.8 358.2 177.8 364.2 188.8 369.8 203.8 374.2 207.2 376.2 212.2 377.8 213.8 378.8 220.2 379.8 220.8 380.2 223.2 380.2 223.8 380.8 231.2 381.2 241.2 384.2 249.2 388.8 252.8 391.8 254.8 392.8 260.8 397.8 266.2 403.2 268.2 404.2 271.8 405.2 278.2 405.8 278.8 406.2 284.2 406.2 284.8 406.8 291.2 407.2 298.2 409.2 312.2 416.2 320.8 422.8 332.8 433.8 346.2 447.8 350.2 451.2 359.8 461.2 367.8 471.8 373.8 477.8 383.2 486.2 388.8 490.2 395.2 496.2 416.2 513.2 430.2 526.8 431.8 529.2 434.8 532.2 436.2 534.8 439.2 537.8 443.8 543.8 446.2 548.2 450.8 560.8 459.2 572.2 465.8 584.8 475.2 597.2 478.8 600.8 480.2 603.2 491.2 615.2 503.2 630.8 506.8 636.2 517.8 646.8 520.8 651.8 527.8 658.2 534.8 661.2 540.8 662.2 541.2 662.8 544.2 662.8 544.8 663.2 549.8 663.8 558.8 666.8 567.2 668.2 576.8 671.2 583.2 675.2 595.8 686.2 604.8 691.8 610.2 694.2 619.2 700.2 629.8 708.2 632.2 710.8 635.2 711.2 638.8 712.8 642.8 713.2 643.2 713.8 663.8 714.2 664.2 714.8 667.2 714.8 667.8 715.2 696.8 715.8 697.2 716.2 732.2 715.8 732.8 715.2 748.8 715.2 749.2 714.8 772.8 714.8 773.2 715.2 784.8 715.2 785.2 715.8 799.8 716.2 800.2 715.8 807.2 715.8 807.8 715.2 812.8 715.2 813.2 714.8 816.2 714.8 816.8 714.2 821.8 714.2 824.2 713.2 826.8 713.2 827.2 712.8 830.8 712.2 843.8 707.2 851.2 701.2 853.8 695.8 855.2 693.8 855.2 692.2 857.8 685.2 864.2 671.8 872.8 659.2 879.2 646.2 883.8 639.8 892.2 629.2 913.2 605.8 924.8 589.8 929.8 575.8 929.8 574.2 931.2 569.8 932.8 567.2 932.8 566.2 933.8 564.8 933.8 563.8 934.8 562.2 939.8 548.8 952.8 522.2 955.2 519.2 962.8 507.8 968.2 497.2 971.8 485.8 972.8 484.2 974.2 478.8 975.2 477.2 975.8 466.8 980.8 451.2 980.8 370.8 976.2 359.2 975.2 352.8 973.8 348.2 972.2 335.2 970.8 333.8 966.2 326.8 965.2 314.2 962.8 309.2 960.8 306.8 957.2 299.2 950.8 290.2 941.8 275.2 931.8 263.8 928.2 258.8 926.2 254.8 921.2 247.8 919.2 243.8 917.2 241.2 908.2 226.2 906.8 222.8 901.8 215.2 897.8 212.8 896.8 212.8 893.2 210.8 891.8 210.8 890.2 209.8 889.2 209.8 880.8 205.8 876.8 201.8 873.2 195.8 865.8 193.2 845.8 182.2 836.2 174.8 825.8 169.2 817.2 162.8 811.8 160.2 806.2 159.8 805.8 159.2 803.8 159.2 800.8 158.2 798.2 156.8 792.8 151.8 792.2 152.2 790.2 152.2 789.8 151.8 781.2 151.8 780.8 151.2 776.8 151.2 776.2 150.8 774.2 150.8 771.2 149.8 768.8 148.2 762.8 141.8 745.8 141.2 742.2 140.2 738.2 137.8 734.2 133.2 732.8 129.2 718.8 128.8 718.2 128.2 709.8 128.2 709.2 127.8 700.8 127.8 700.2 127.2 695.2 127.2 694.8 126.8 693.2 126.8 657.2 110.2 302.8 110.2 300.8 111.2 298.8 116.8 295.8 119.2 257.2 119.2 252.8 128.2 250.2 130.2 224.8 130.2 220.2 138.8 217.8 140.8 197.8 140.8 193.8 148.8 191.2 150.8 178.2 150.8 174.2 159.2 171.2 161.8 155.2 161.8Z"/>
<path fill="#ff4000" d="M154.2 162.2 154.2 334.2 158.8 337.2 164.8 343.2 172.8 354.8 178.8 360.8 183.8 363.8 189.2 366.2 196.2 368.2 197.8 369.2 203.8 370.8 211.8 374.8 217.2 376.8 218.8 376.8 223.2 378.2 233.2 379.2 233.8 379.8 238.8 380.8 246.2 384.2 251.8 387.8 259.8 393.8 263.8 397.8 268.2 401.2 271.8 402.2 278.2 402.8 278.8 403.2 288.8 403.8 289.2 404.2 291.8 404.2 292.2 404.8 294.2 404.8 296.2 405.8 297.8 405.8 309.8 411.2 319.2 417.2 334.8 431.2 361.2 458.2 369.2 468.8 378.8 478.2 388.8 486.8 391.2 488.2 404.8 500.2 415.8 508.8 431.8 523.8 446.8 542.8 449.8 548.8 453.2 558.8 462.8 571.8 464.8 576.2 471.2 586.8 473.8 589.2 476.8 593.8 481.2 598.2 482.8 600.8 495.2 614.2 496.8 616.8 504.8 626.2 510.2 634.2 519.2 642.8 524.8 651.2 527.8 654.2 531.8 656.8 539.2 659.2 552.2 661.2 560.2 664.2 570.2 666.2 578.8 669.2 586.8 674.2 591.8 678.8 597.2 682.8 617.8 694.8 626.8 701.2 634.2 707.8 641.2 709.8 643.2 709.8 643.8 710.2 665.2 710.8 665.8 711.2 678.8 711.2 679.2 711.8 697.8 712.2 698.2 712.8 698.8 712.2 725.8 712.2 726.2 711.8 737.8 711.8 738.2 711.2 749.2 711.2 749.8 710.8 767.2 710.8 767.8 710.2 771.8 710.2 772.2 710.8 790.8 710.8 791.2 711.2 798.8 711.8 799.2 711.2 806.2 711.2 806.8 710.8 809.8 710.8 810.2 710.2 821.2 709.8 823.8 708.8 826.8 708.8 830.8 707.2 832.2 707.2 841.8 703.8 847.2 699.8 849.8 697.2 852.8 691.2 852.8 689.8 854.2 686.8 854.2 685.2 859.2 674.2 868.8 658.8 875.8 644.8 878.8 640.2 893.8 622.2 907.8 607.8 922.2 589.2 924.2 584.8 924.8 582.2 925.8 580.8 928.8 570.2 932.2 562.8 932.2 561.8 933.2 560.2 937.2 549.2 938.8 546.8 938.8 545.8 946.8 530.2 946.8 529.2 950.2 522.2 958.2 510.8 966.8 494.8 967.2 491.8 971.2 479.8 972.8 476.8 972.8 470.2 973.2 469.8 973.8 464.2 974.8 462.2 975.2 459.2 977.8 454.2 978.2 450.2 980.8 443.8 980.8 371.8 976.2 361.2 976.2 359.2 975.8 358.8 974.8 352.8 973.2 348.2 971.8 335.2 970.2 333.8 965.8 326.8 964.8 314.2 961.8 308.2 959.8 305.8 956.2 298.2 950.2 290.2 941.2 275.2 931.8 264.8 925.8 254.8 920.8 247.8 918.8 243.8 915.8 239.8 913.8 235.8 912.2 234.2 905.8 222.2 901.2 215.8 893.8 212.2 887.8 210.8 879.8 207.2 875.2 202.8 874.8 201.2 871.8 197.2 870.2 197.2 868.8 196.2 862.2 194.2 861.2 193.2 845.2 185.8 832.8 176.8 830.2 175.8 821.2 170.2 819.2 168.2 814.8 165.2 812.8 164.8 810.2 163.2 804.2 162.8 800.8 161.8 795.8 159.2 791.8 155.2 781.2 155.2 780.8 154.8 776.2 154.8 775.8 154.2 771.8 153.8 766.2 150.8 761.2 145.2 745.2 144.2 741.8 143.2 737.2 140.8 733.8 137.2 731.2 132.8 729.2 131.8 719.2 131.2 718.8 130.8 711.2 130.8 710.8 130.2 702.2 130.2 701.8 129.8 693.8 129.2 690.8 128.2 651.8 110.2 303.8 110.2 300.8 112.2 299.2 116.8 295.8 119.8 257.8 119.8 253.2 128.2 250.2 130.8 225.2 130.8 221.8 136.2 220.8 138.8 217.8 141.2 198.2 141.2 196.2 144.2 194.2 148.8 192.2 150.8 191.2 151.2 178.2 151.2 174.8 159.2 172.2 161.8 170.8 162.2Z"/>
<path fill="#ff1000" d="M154.2 162.8 154.2 331.8 159.8 334.8 166.8 341.8 173.2 350.8 179.8 357.2 188.8 362.2 195.2 364.2 199.2 366.2 203.8 367.2 214.8 372.8 220.2 374.8 221.8 374.8 226.2 376.2 228.2 376.2 228.8 376.8 234.8 377.2 235.2 377.8 240.2 378.8 243.8 380.8 244.8 380.8 253.8 386.2 269.2 398.8 274.2 399.2 274.8 399.8 278.8 399.8 279.2 400.2 289.8 400.8 290.2 401.2 292.8 401.2 293.2 401.8 296.8 402.2 303.8 404.8 311.8 408.8 312.8 409.8 316.2 411.2 321.8 415.2 336.8 428.8 362.2 454.8 371.2 466.2 381.2 476.2 394.2 486.8 404.8 496.2 415.8 504.8 432.2 519.8 444.8 534.8 449.8 541.8 452.2 546.8 455.8 556.8 465.2 569.8 470.8 580.2 473.2 583.8 485.8 598.8 498.8 612.8 504.8 620.8 507.2 623.2 513.2 631.8 520.8 638.8 526.8 648.8 529.2 651.2 532.2 653.2 538.2 655.8 552.8 658.2 565.2 662.8 571.2 663.8 578.2 666.2 587.8 671.2 596.2 677.8 600.2 679.8 602.8 681.8 614.8 688.2 628.8 698.2 636.2 704.8 637.8 704.8 639.8 705.8 643.8 706.2 644.2 706.8 666.2 707.2 666.8 707.8 680.8 707.8 681.2 708.2 695.8 708.2 696.2 708.8 719.8 708.8 720.2 708.2 731.8 708.2 732.2 707.8 741.2 707.8 741.8 707.2 759.2 706.8 759.8 706.2 775.8 706.2 776.2 706.8 777.2 706.2 792.2 706.2 792.8 706.8 801.8 706.8 802.2 706.2 814.8 705.8 815.2 705.2 820.8 705.2 823.8 704.2 826.8 704.2 838.2 700.8 842.2 698.8 847.2 694.8 849.8 690.2 853.8 678.2 854.8 677.2 854.8 676.2 858.2 669.2 859.2 668.2 860.8 664.8 866.2 655.8 871.8 644.2 875.2 638.8 891.8 619.2 902.2 609.2 907.2 603.8 920.2 587.8 924.2 578.2 926.2 570.8 930.8 560.8 935.8 547.2 941.2 536.8 941.2 535.8 945.8 527.2 945.8 526.2 948.2 521.2 956.2 509.8 964.2 494.8 966.2 488.8 966.2 487.2 970.2 476.2 970.2 470.8 970.8 470.2 970.8 466.2 971.2 465.8 971.8 462.2 975.2 454.2 977.8 445.2 980.8 439.2 980.8 373.2 975.8 361.2 975.8 359.2 974.2 354.8 974.2 352.2 972.8 347.8 971.2 335.2 965.8 327.8 965.2 323.2 964.8 322.8 964.2 314.2 957.2 300.8 949.8 290.2 941.8 276.8 929.8 262.8 926.2 257.2 925.2 254.8 920.2 247.8 914.8 238.2 913.2 236.8 905.8 223.2 900.8 216.2 893.2 213.2 889.2 212.8 883.2 210.8 878.2 208.2 875.2 205.8 870.2 198.8 868.8 198.8 861.2 196.2 854.2 192.8 849.2 191.2 838.8 185.8 833.2 181.2 823.2 175.8 813.2 168.2 808.8 166.2 802.8 165.8 798.2 164.2 794.2 162.2 789.2 158.2 787.8 158.2 787.2 158.8 783.2 158.2 782.2 158.8 781.8 158.2 775.8 158.2 775.2 157.8 773.2 157.8 766.8 155.2 758.8 148.2 748.2 147.8 747.8 147.2 744.8 147.2 741.2 146.2 735.8 143.2 731.8 139.2 729.2 134.8 726.2 134.2 725.8 133.8 720.2 133.8 716.8 132.8 699.8 132.2 699.2 131.8 694.2 131.8 693.8 131.2 692.2 131.2 678.2 124.8 677.2 124.8 673.8 122.8 672.8 122.8 668.2 120.2 667.2 120.2 663.8 118.2 662.8 118.2 652.8 113.2 651.8 113.2 644.8 110.2 304.8 110.2 301.2 112.2 299.8 116.8 295.8 120.2 257.8 120.2 253.8 128.2 251.2 130.8 249.8 131.2 225.2 131.2 221.2 138.8 217.8 141.8 198.2 141.8 194.8 148.8 192.2 151.2 191.2 151.8 178.8 151.8 175.2 159.2 172.2 162.2 170.8 162.8Z"/>
<path fill="#df0000" d="M154.2 163.2 154.2 328.8 157.8 330.2 163.2 334.2 169.2 340.8 176.2 349.8 180.2 353.2 184.8 356.2 190.8 359.2 202.2 363.2 203.8 364.2 206.2 364.8 220.2 371.8 224.8 372.8 226.8 373.8 230.8 374.2 231.2 374.8 234.2 374.8 242.8 377.2 254.2 383.8 269.2 395.8 273.8 396.2 274.2 396.8 278.8 396.8 279.2 397.2 290.8 397.8 291.2 398.2 293.8 398.2 294.2 398.8 297.8 399.2 304.8 401.8 314.8 406.8 323.8 412.8 336.8 424.2 337.8 425.8 349.8 437.2 363.2 451.2 369.2 458.2 372.8 463.2 378.2 469.2 388.2 478.2 396.8 484.8 405.2 492.8 415.8 500.8 426.2 509.8 437.2 520.8 449.8 536.2 452.8 540.8 454.8 544.8 458.8 555.8 460.8 557.8 462.8 561.2 467.8 567.8 472.2 576.2 476.2 582.2 488.2 596.2 502.2 611.2 513.2 624.8 514.2 626.8 521.8 634.2 524.2 637.8 526.8 643.2 528.8 646.2 534.2 650.8 542.8 653.8 545.2 653.8 545.8 654.2 548.2 654.2 548.8 654.8 554.8 655.8 559.2 657.8 566.8 660.2 570.2 660.8 583.8 665.8 585.8 667.2 590.2 669.2 596.8 673.8 601.8 676.2 612.8 683.2 617.8 685.8 621.2 688.8 630.8 695.2 637.8 701.2 644.8 703.2 667.2 703.8 667.8 704.2 682.2 704.2 682.8 704.8 697.2 704.8 697.8 705.2 713.2 705.2 713.8 704.8 735.8 704.2 736.2 703.8 743.2 703.8 743.8 703.2 756.8 702.8 757.2 702.2 765.2 702.2 765.8 701.8 775.8 701.8 776.2 702.2 779.2 702.2 779.8 701.8 793.8 701.8 794.2 702.2 799.8 702.2 800.2 701.8 807.2 701.8 807.8 701.2 813.8 701.2 814.2 700.8 819.8 700.8 823.2 699.8 826.2 699.8 838.2 696.2 841.2 694.8 845.8 690.8 847.2 687.8 850.2 678.2 856.2 666.2 857.2 665.2 857.2 664.2 859.2 661.2 867.2 644.8 871.8 637.2 885.2 621.2 903.2 603.8 917.8 587.2 921.2 579.8 925.2 567.2 929.2 558.8 934.2 545.2 940.8 532.8 940.8 531.8 944.8 524.2 945.8 521.2 954.2 508.8 962.2 493.8 963.2 489.2 964.8 485.8 964.8 484.2 965.8 482.2 965.8 480.8 968.2 474.2 967.8 473.8 967.8 472.2 968.2 471.8 968.2 466.2 968.8 465.8 969.2 462.2 970.2 459.2 972.8 454.8 973.2 451.8 974.8 448.8 975.2 446.2 979.8 437.2 980.8 436.2 980.8 374.8 978.8 370.2 978.2 367.8 975.8 362.8 974.8 356.8 973.8 354.2 973.8 352.2 972.2 347.8 970.8 335.2 965.8 328.8 964.8 325.8 964.8 322.8 964.2 322.2 963.8 314.2 961.2 309.2 960.2 308.2 956.8 300.8 949.2 290.2 943.8 280.8 938.8 273.8 929.2 262.8 925.8 257.2 924.8 254.8 911.8 235.2 905.2 223.2 902.8 219.8 899.2 216.2 894.8 215.2 892.8 214.2 890.2 214.2 887.8 213.2 885.8 213.2 884.2 212.2 882.8 212.2 877.2 209.8 873.2 206.2 872.2 204.2 869.2 200.8 865.2 199.2 860.2 198.2 852.2 194.8 847.8 193.8 838.8 189.8 830.8 183.8 820.8 178.2 811.8 171.2 808.8 169.8 804.8 169.2 804.2 168.8 801.8 168.8 796.8 167.2 791.8 164.8 787.8 161.8 775.2 161.8 774.8 161.2 772.2 161.2 767.8 159.8 762.8 156.8 758.2 151.8 751.8 151.2 751.2 150.8 747.2 150.8 746.8 150.2 744.2 150.2 739.2 148.8 734.2 145.8 730.2 141.8 727.8 137.2 726.8 136.8 720.2 136.2 717.2 135.2 695.8 134.2 695.2 133.8 692.8 133.8 689.8 132.8 675.8 126.2 674.8 126.2 671.2 124.2 670.2 124.2 652.8 115.8 647.8 114.2 638.2 110.2 305.8 110.2 301.8 112.2 300.2 116.8 299.2 118.2 296.8 120.2 295.2 120.8 258.2 120.8 253.8 128.8 250.8 131.2 249.2 131.8 225.8 131.8 224.8 132.8 220.8 140.2 218.8 141.8 217.2 142.2 198.2 142.2 198.2 143.2 197.2 144.2 195.2 148.8 192.2 151.8 190.8 152.2 178.8 152.2 177.8 155.2 175.2 159.8 171.8 162.8 170.2 163.2Z"/>
<path fill="#af0000" d="M154.2 164.2 154.2 321.8 158.8 323.2 164.8 326.8 169.2 330.2 179.8 340.2 186.8 345.2 197.8 350.8 198.8 350.8 207.8 355.2 208.8 355.2 216.2 359.2 225.8 365.8 233.8 369.8 236.2 370.2 241.2 372.8 242.2 372.8 249.8 376.8 260.8 384.2 271.2 392.2 274.8 392.2 275.2 392.8 279.8 392.8 280.2 393.2 286.8 393.2 287.2 393.8 290.8 393.8 291.2 394.2 293.8 394.2 294.2 394.8 298.2 395.2 304.2 397.2 308.8 399.8 309.8 399.8 318.2 404.2 324.2 408.2 342.2 424.2 357.2 438.8 367.2 447.2 380.2 461.2 390.2 469.2 393.2 472.2 401.2 478.2 411.2 487.8 424.2 497.8 432.2 504.8 442.8 515.2 444.2 517.8 453.8 528.8 458.8 535.8 462.2 542.8 464.8 550.2 473.2 561.2 480.2 573.2 486.8 581.2 504.2 599.2 519.8 617.2 522.8 621.8 527.2 626.8 530.8 633.2 531.8 636.8 535.8 641.2 537.8 642.8 543.8 645.2 555.8 647.2 569.8 652.2 573.2 652.8 583.8 656.2 585.2 657.2 593.8 660.2 614.8 671.2 617.2 673.2 624.2 677.2 640.2 688.8 644.2 690.8 648.2 690.8 650.8 689.8 656.2 689.2 656.8 688.8 658.8 688.8 661.8 687.8 666.2 687.8 666.8 687.2 695.8 686.8 696.2 687.2 702.2 687.2 702.8 687.8 713.8 687.8 714.2 688.2 726.8 688.8 727.2 689.2 736.8 689.8 737.2 690.2 746.2 690.8 746.8 691.2 757.8 691.8 758.2 692.2 765.2 692.2 765.8 692.8 773.8 692.8 774.2 693.2 778.2 693.2 778.8 693.8 794.8 693.8 795.2 694.2 799.8 694.2 800.2 693.8 807.2 693.8 807.8 693.2 813.8 693.2 814.2 692.8 820.2 692.8 820.8 692.2 827.2 691.8 827.8 691.2 835.2 689.8 842.2 686.8 849.2 672.2 850.2 671.2 853.8 664.2 858.8 647.8 865.8 635.2 880.2 618.2 897.8 600.8 911.2 584.2 913.8 578.2 918.2 563.8 919.8 561.2 919.8 560.2 920.8 558.8 920.8 557.8 921.8 556.2 926.8 542.8 940.2 515.8 950.2 501.8 957.2 488.8 957.8 485.8 959.2 482.2 959.2 480.8 960.8 477.2 960.8 475.8 962.2 472.2 962.2 465.2 962.8 464.8 963.2 461.2 965.8 455.8 967.2 453.8 967.8 451.2 970.8 445.2 976.2 437.2 980.8 426.8 980.8 379.2 977.8 369.8 974.8 363.2 974.2 359.2 972.8 354.2 972.8 352.2 971.2 347.8 969.8 335.8 965.2 329.8 963.8 326.2 962.8 314.2 959.2 308.8 955.8 301.2 950.2 293.8 948.2 289.8 946.2 287.2 942.2 280.2 940.8 278.8 940.2 277.2 928.2 263.2 922.2 252.8 918.8 248.2 918.2 246.8 915.2 242.8 913.8 239.8 912.2 238.2 911.8 236.8 910.2 235.2 904.2 224.2 898.2 217.8 894.2 217.2 893.8 216.8 890.8 216.8 890.2 216.2 884.8 216.2 877.8 214.2 873.2 211.8 868.8 206.8 865.2 203.8 859.2 202.8 849.2 199.8 844.8 199.2 836.8 196.8 832.8 194.8 825.2 189.2 822.8 188.2 818.8 185.2 815.8 183.8 805.8 175.8 799.8 174.8 795.2 173.2 792.8 171.8 790.8 171.2 784.8 167.2 773.2 167.2 772.8 166.8 768.2 166.2 761.2 162.8 755.8 157.2 745.2 156.2 736.8 153.8 733.8 152.2 729.8 149.2 724.2 142.2 718.8 141.8 716.2 140.8 701.2 140.2 700.8 139.8 695.8 139.8 695.2 139.2 690.2 138.8 683.8 135.8 682.8 135.8 679.2 133.8 678.2 133.8 674.8 131.8 673.8 131.8 663.8 126.8 662.8 126.8 649.8 120.2 642.2 117.8 624.2 110.2 352.8 110.2 352.2 110.8 307.2 110.8 303.2 112.8 302.2 113.8 300.8 117.8 296.8 121.2 295.2 121.8 258.8 121.8 256.8 124.8 254.8 129.2 251.2 132.2 249.8 132.2 249.2 132.8 226.2 132.8 225.2 133.8 222.2 139.8 219.8 142.2 217.8 143.2 199.2 143.2 197.8 145.2 195.8 149.8 193.2 152.2 191.2 153.2 179.2 153.2 176.2 160.2 172.2 163.8 170.8 163.8 170.2 164.2Z"/>
<path fill="#800000" d="M154.2 185.2 154.2 273.2 155.8 273.2 156.8 274.2 163.2 287.2 163.2 288.2 164.2 289.8 164.2 290.8 165.2 292.2 165.2 293.2 173.8 313.8 182.8 314.8 187.8 323.8 218.2 324.2 219.2 326.2 219.2 329.2 219.8 329.8 220.2 334.8 241.8 334.8 246.2 343.8 248.2 344.8 254.2 345.8 260.2 356.2 280.2 356.8 284.8 360.8 292.2 374.2 307.8 377.8 309.2 379.8 309.8 382.2 312.2 388.2 340.2 388.2 358.8 418.8 365.8 418.8 373.8 430.2 385.8 430.2 392.2 441.8 405.8 441.8 413.8 451.8 420.2 451.8 425.8 462.2 442.2 470.2 443.2 470.2 453.2 475.2 454.2 476.2 463.2 490.2 465.8 505.2 470.2 514.2 479.2 526.8 481.8 539.2 488.8 541.8 496.2 536.8 503.8 535.2 514.8 542.2 528.2 548.8 533.8 556.8 535.2 557.8 538.8 558.2 540.8 559.2 542.2 559.2 544.2 560.2 547.8 560.8 551.8 562.2 570.8 563.8 577.8 566.8 580.2 567.2 581.8 568.2 593.2 571.8 594.8 572.8 601.2 584.2 610.2 598.2 627.2 604.8 642.2 616.2 657.2 619.8 657.8 620.2 669.2 620.2 670.2 621.2 674.8 630.8 688.2 630.8 694.8 641.8 701.8 630.8 716.2 632.2 721.8 623.2 726.8 623.2 735.2 632.8 740.2 641.8 741.8 672.2 801.8 672.2 810.8 661.8 825.8 654.2 840.2 652.2 844.8 643.2 860.2 622.2 860.2 610.2 871.8 590.8 873.8 589.8 880.2 588.2 886.2 580.2 886.2 544.2 906.2 516.2 916.2 515.2 916.8 514.8 920.2 514.8 922.8 513.8 924.2 510.2 925.2 509.2 926.8 505.8 927.8 504.8 929.2 501.2 930.2 500.2 931.8 496.8 932.8 495.8 934.2 492.2 935.2 491.2 936.8 487.8 937.8 486.8 939.2 483.2 940.2 482.2 941.8 478.8 942.8 477.8 944.2 474.2 945.2 473.2 952.2 460.2 952.2 448.2 946.2 438.2 948.2 424.2 972.2 398.2 980.8 396.2 980.8 379.2 977.8 369.8 974.8 363.2 974.2 359.2 972.8 354.2 972.8 352.2 971.2 347.8 969.8 335.8 965.2 329.8 963.8 326.2 962.8 314.2 959.2 308.8 955.8 301.2 950.2 293.8 948.2 289.8 946.2 287.2 942.2 280.2 940.8 278.8 940.2 277.2 929.8 265.2 926.8 260.8 892.8 260.8 891.8 259.8 888.8 251.2 875.8 251.2 862.2 232.8 856.2 220.8 854.2 219.8 852.2 219.8 851.8 219.2 846.2 218.2 836.2 207.8 830.2 197.8 788.2 197.8 787.2 196.8 783.8 186.8 761.2 186.8 759.8 184.8 759.2 182.2 756.8 176.2 726.8 176.2 725.8 174.8 723.8 165.8 698.8 165.8 698.2 165.2 698.2 145.8 673.8 144.8 666.2 156.2 650.8 164.8 616.2 164.8 610.8 154.2 610.8 142.8 616.2 123.8 610.8 112.2 545.2 112.2 541.8 119.2 540.8 120.2 532.2 120.2 528.2 112.2 381.2 112.2 378.2 119.2 378.2 120.2 376.8 122.2 349.8 122.2 348.2 120.2 348.2 119.2 345.2 112.2 327.2 112.2 324.2 119.2 324.2 120.2 322.8 122.2 258.2 122.2 254.8 129.2 252.2 131.8 249.8 132.2 248.8 133.2 225.8 133.2 222.2 139.8 219.8 142.2 216.2 143.8 198.8 143.8 195.8 149.8 193.2 152.2 189.8 153.8 179.2 153.8 176.2 160.2 174.2 162.2 174.2 164.8 156.2 185.2Z"/>
<path d="M362.2 163.9 L348.3 163.0 L334.8 161.0 L325.2 159.1 L313.7 160.1 L306.0 157.2 L298.3 154.3 L288.7 155.3 L282.9 152.4 L279.1 151.4 L271.4 153.3 L263.7 155.3 L256.0 158.2 L248.3 161.0 L240.6 163.9 L232.9 169.7 L225.2 174.5 L217.5 176.4 L211.8 179.3 L210.8 183.2 L217.5 187.0 L225.2 190.8 L231.0 194.7 L238.7 196.6 L246.4 200.5 L255.0 202.4 L248.3 204.3 L242.5 206.2 L234.8 206.2 L229.1 202.4 L223.3 201.4 L215.6 204.3 L207.9 208.2 L202.2 211.0 L207.9 213.9 L213.7 215.8 L215.6 221.6 L221.4 223.5 L229.1 223.5 L236.8 225.5 L242.5 223.5 L247.3 219.7 L250.2 223.5 L248.3 229.3 L246.4 233.2 L240.6 235.1 L234.8 237.0 L229.1 237.0 L225.2 238.9 L221.4 242.8 L217.5 246.6 L215.6 252.4 L217.5 258.2 L223.3 260.1 L229.1 262.0 L232.9 263.9 L229.1 267.8 L225.2 265.8 L221.4 267.8 L225.2 273.5 L232.9 271.6 L238.7 273.5 L242.5 279.3 L246.4 285.1 M156.0 198.5 L161.8 196.6 L167.5 197.6 L175.2 196.6 L181.0 199.5 L186.8 204.3 L190.6 207.2 L184.8 208.2 L179.1 210.1 L173.3 210.1 L171.4 213.9 L173.3 217.8 L169.5 219.7 L167.5 223.5 L163.7 223.5 L159.8 222.6 L156.0 221.6 M177.2 232.2 L184.8 233.2 L190.6 235.1 L195.4 237.0 L190.6 238.9 L184.8 236.0 L179.1 234.1 Z M207.0 268.7 L212.7 267.8 L217.5 270.7 L213.7 273.5 L207.9 272.6 Z M359.1 162.4 L368.7 163.5 L378.3 165.8 L387.9 169.7 L399.5 173.5 L411.0 176.4 L416.8 179.7 L414.8 173.5 L424.5 169.7 L434.1 167.8 L441.8 165.5 L453.3 163.5 L464.8 160.1 L468.7 158.2 L472.5 162.4 M429.3 176.4 L434.1 171.6 L441.8 167.8 L451.4 164.3 L455.2 163.9 L452.3 167.4 L443.7 170.7 L437.0 175.5 L435.0 181.2 L431.2 179.3 Z M361.0 271.6 L372.5 270.7 L380.2 271.6 L389.8 275.5 L399.5 279.3 L409.1 277.4 L414.8 274.5 L418.7 275.5 L422.5 281.2 L424.5 285.1 M685.2 285.1 L687.2 265.8 L691.0 258.2 L696.8 250.5 L700.6 244.7 L706.4 242.8 L712.2 237.0 L716.0 233.2 L712.2 231.2 L700.6 229.7 L696.8 231.2 M712.2 235.1 L717.9 230.3 L727.5 226.4 L733.3 220.7 L735.2 215.8 L731.4 212.0 L723.7 210.1 L716.0 208.2 L712.2 209.1 L719.8 212.4 L727.5 215.8 M735.2 235.1 L742.9 227.4 L746.8 219.7 L744.8 213.9 L748.7 210.1 L754.5 213.9 L760.2 217.8 L766.0 219.7 L769.8 225.5 L766.0 227.4 L760.2 231.2 L754.5 229.3 L748.7 231.2 L742.9 235.1 Z M756.4 246.6 L762.2 242.8 L767.9 240.8 L769.8 244.7 L764.1 247.6 L758.3 248.5 Z M566.0 160.1 L573.7 162.0 M771.0 115.8 L778.7 114.9 M771.0 126.4 L778.7 126.4 L786.4 127.4 L794.1 127.4 L801.8 129.3 L807.5 133.2 L803.7 136.0 L797.9 135.1 L790.2 137.0 L786.4 140.8 L782.5 142.8 L778.7 140.8 L774.8 142.8 L772.9 138.9 L771.0 137.0 M776.8 137.0 L782.5 138.9 L788.3 141.8 L790.2 145.7 L786.4 145.7 L780.6 142.8 Z M799.8 138.9 L809.5 140.8 L817.2 142.8 L819.1 146.6 L815.2 149.5 L822.9 150.5 L828.7 152.4 L834.5 154.3 L840.2 158.2 L846.0 159.1 L851.8 162.0 L857.5 163.9 L863.3 165.8 L867.2 169.7 L869.1 173.5 L863.3 175.5 L857.5 177.4 L861.4 181.2 L867.2 185.1 L872.9 187.0 L878.7 190.8 L884.5 192.8 L888.3 194.7 L894.1 196.6 L899.8 198.5 L903.7 202.4 L901.8 206.2 L896.0 208.2 L892.2 212.0 L890.2 215.8 M932.5 113.0 L938.3 119.7 L944.1 127.4 L947.9 133.2 L949.8 137.0 L946.0 140.8 L943.1 144.7 L942.2 148.5 L947.9 150.5 L955.6 147.6 L963.3 146.6 L967.2 148.5 L971.0 150.5 L974.8 154.3 L978.1 158.2 M949.8 158.2 L955.6 156.2 L963.3 158.2 L971.0 160.1 L974.8 163.0 L978.1 163.9 M947.9 163.9 L951.8 167.8 L959.5 169.7 L963.3 171.6 L967.2 169.7 L971.0 167.8 M955.6 177.4 L959.5 181.2 L961.4 185.1 L959.5 188.9 L963.3 190.8 L969.1 192.8 L972.9 190.8 L978.1 192.8 M957.5 194.7 L959.5 202.4 L963.3 210.1 L965.2 215.8 L969.1 221.6 L972.9 225.5 L978.1 227.4 M971.0 229.3 L974.8 235.1 L978.1 238.9 M771.0 156.2 L778.7 157.2 L786.4 160.1 L794.1 162.0 L801.8 165.8 L809.5 169.7 L817.2 173.5 L824.8 177.4 L828.7 183.2 L832.5 188.9 L830.6 194.7 L826.8 198.5 L822.9 202.4 L819.1 206.2 L821.0 210.1 L817.2 213.9 L809.5 215.8 L801.8 215.8 L796.0 217.8 L794.1 221.6 L797.9 225.5 L805.6 225.5 L813.3 223.5 L819.1 221.6 L822.9 223.5 L828.7 227.4 L836.4 231.2 L838.3 235.1 L842.2 238.9 L844.1 242.8 L847.9 244.7 M786.4 172.6 L794.1 173.5 L793.1 176.4 L787.3 176.4 Z M799.8 188.9 L803.7 184.1 L811.4 183.5 L813.7 188.0 L811.4 193.7 L803.7 194.7 Z M815.2 186.0 L821.0 184.7 L826.8 187.4 L821.0 189.3 Z M834.5 198.5 L842.2 196.6 L849.8 198.5 L853.7 202.4 L847.9 206.2 L840.2 206.2 L834.5 202.4 Z M859.5 206.2 L865.2 202.4 L871.0 204.3 L874.8 208.2 L878.7 212.0 L882.5 215.8 L886.4 215.8 L890.2 212.0 L894.1 210.1 M859.5 206.2 L863.3 212.0 L871.0 215.8 L874.8 219.7 L878.7 223.5 L882.5 229.3 L884.5 235.1 L880.6 238.9 L874.8 237.0 L869.1 233.2 L863.3 231.2 L857.5 229.3 L855.6 233.2 M855.6 233.2 L861.4 236.0 L867.2 238.9 L872.9 242.8 L876.8 244.7 L882.5 244.7 M771.0 229.3 L776.8 231.2 L782.5 235.1 M780.6 246.6 L784.5 250.5 L782.5 254.3 L779.7 250.5 Z M796.0 246.6 L803.7 244.7 L813.3 246.6 L821.0 250.5 L828.7 254.3 L836.4 258.2 L844.1 262.0 L847.9 265.8 L851.8 271.6 L849.8 277.4 L847.9 285.1 M794.1 250.5 L796.0 258.2 L797.9 265.8 L799.8 273.5 L797.9 279.3 L794.1 285.1 M878.7 252.4 L883.5 254.3 L881.6 258.2 L877.7 256.2 Z M874.8 271.6 L880.6 269.7 L886.4 277.4 L894.1 285.1 M300.2 284.0 L294.5 289.8 L286.8 295.5 L279.1 301.3 L271.4 307.1 L263.7 311.9 L256.0 315.7 L248.3 319.6 L240.6 323.4 L232.9 327.3 L225.2 331.1 L223.3 329.2 L229.1 324.4 L236.8 320.5 L244.5 316.7 L252.2 312.8 L257.9 309.0 L265.6 305.2 L275.2 301.3 L281.0 295.5 L290.6 289.8 L298.3 284.0 M271.4 284.0 L272.3 289.8 L269.5 295.5 L264.7 301.3 L262.7 305.2 M242.5 284.0 L248.3 286.3 L256.0 284.4 M292.5 301.3 L298.3 295.5 L304.1 289.8 L307.9 287.8 L306.0 293.6 L302.2 299.4 L298.3 303.2 L293.5 304.2 Z M209.5 335.9 L213.7 334.4 L214.3 338.8 L211.4 340.2 Z M199.8 341.3 L202.5 340.2 L203.3 342.5 L200.6 342.8 Z M159.8 352.3 L162.2 351.7 L162.7 354.2 L160.2 354.8 Z M361.0 270.2 L372.5 271.2 L382.2 273.5 L391.8 275.0 L399.5 278.8 L407.2 282.3 L413.9 278.8 L418.7 275.4 L424.5 283.7 L432.2 292.3 L439.8 300.4 L447.5 307.7 L452.3 313.5 L454.3 321.2 L451.8 326.9 L451.4 334.6 L457.2 340.4 L462.9 344.2 L468.7 350.0 L472.5 357.7 L471.6 363.5 L476.4 365.4 L481.2 370.8 L486.0 373.1 L488.9 376.9 L495.6 380.8 L498.5 384.6 L502.3 389.4 L503.3 396.2 L501.4 403.8 M409.1 286.5 L414.8 283.7 L422.5 288.5 L428.3 296.2 L434.1 303.8 L441.8 311.5 L446.6 319.2 L443.7 326.0 L437.9 323.1 L432.2 315.4 L424.5 307.7 L416.8 300.0 L411.0 293.3 Z M464.8 367.3 L472.5 369.2 L480.2 373.1 L486.0 376.9 L491.8 382.7 L495.6 388.5 L497.9 397.1 L493.7 393.3 L487.9 386.9 L480.2 381.2 L472.5 375.4 L466.4 371.2 Z M432.2 334.6 L436.4 336.9 L439.8 342.7 L442.2 351.0 L438.3 347.1 L434.5 340.8 Z M487.9 378.8 L490.2 388.5 L492.2 396.2 L494.1 403.8 L492.2 413.5 L493.7 423.1 M694.8 250.0 L691.0 255.8 L687.2 261.5 L685.2 269.2 L685.2 278.8 L687.2 284.6 L694.8 285.6 L698.7 292.3 L700.6 301.9 L708.3 301.0 L716.0 302.9 L723.7 305.8 L731.4 313.5 L739.1 316.3 L748.7 320.2 L758.3 322.1 L767.9 324.0 L767.9 332.7 L767.0 344.2 L769.8 350.0 L772.2 353.8 M689.1 387.5 L696.8 392.3 L704.5 394.6 L712.2 398.1 L719.8 396.2 L725.6 390.4 L729.5 388.5 L735.2 392.3 L744.8 398.1 L750.6 403.8 L758.3 409.6 L766.0 413.5 L772.2 415.4 M698.7 415.4 L704.5 409.6 L712.2 407.7 L719.8 410.6 L725.6 408.1 L733.3 413.5 L742.9 415.8 L750.6 419.2 L758.3 417.7 L766.0 419.6 L772.2 421.5 M683.3 382.7 L686.2 384.6 L689.1 387.5 M779.7 251.0 L782.5 253.8 L785.4 251.9 M796.0 250.0 L797.9 257.7 L796.0 263.5 L799.8 269.2 L797.9 275.0 L796.0 280.8 L792.2 285.6 L797.9 290.4 L803.7 296.2 L805.6 303.8 L803.7 311.5 L797.9 317.3 L790.2 323.1 L784.5 328.8 L788.3 334.6 L790.2 342.3 L790.2 351.9 L788.3 359.6 L786.4 367.3 L782.5 365.4 L778.7 361.5 L774.8 357.7 L771.0 353.8 M782.5 314.4 L786.4 309.6 L790.2 307.7 L789.3 311.5 L785.4 315.4 Z M771.0 344.2 L774.8 343.3 L778.7 347.1 L774.8 349.0 Z M828.7 250.0 L836.4 255.8 L844.1 259.6 L849.8 261.5 L851.8 265.4 L849.8 271.2 L847.9 276.9 L849.8 284.6 L855.6 286.5 L859.5 290.4 L865.2 288.5 L871.0 286.5 L874.8 282.7 L876.8 278.8 L878.7 273.1 L882.5 269.2 L886.4 271.2 L890.2 276.9 L894.1 284.6 L897.9 292.3 L901.8 298.1 L899.8 305.8 L903.7 311.5 L907.5 317.3 L911.4 323.1 L917.2 326.9 L922.9 328.8 L928.7 330.8 L934.5 334.6 L938.3 340.4 L940.2 346.2 L942.2 351.9 L938.3 357.7 L932.5 359.6 L924.8 361.5 L917.2 365.4 L909.5 369.2 L901.8 373.1 L894.1 373.1 L886.4 375.0 L878.7 375.0 L871.0 375.0 L867.2 378.8 L865.2 382.7 L861.4 384.6 L857.5 388.5 L851.8 392.3 L847.9 400.0 L844.1 405.8 L840.2 411.5 M858.5 266.3 L861.4 268.3 L859.5 269.2 Z M924.8 384.6 L922.9 378.8 L928.7 365.4 L936.4 361.5 L940.2 365.4 L938.3 373.1 L940.2 376.9 L944.1 380.8 L949.8 382.7 L953.7 384.6 L957.5 388.5 L959.5 396.2 L957.5 401.9 L955.6 407.7 L951.8 411.5 L944.1 409.6 L938.3 403.8 L930.6 401.9 L922.9 400.0 L919.1 398.1 L921.0 390.4 Z M886.4 377.9 L894.1 378.8 L901.8 382.7 L897.9 385.6 L890.2 382.7 Z M844.1 409.6 L851.8 401.9 L859.5 396.2 L867.2 392.3 L874.8 388.5 L882.5 386.5 L886.4 390.4 L882.5 396.2 L878.7 398.1 L874.8 396.2 L871.0 398.1 L874.8 401.9 L878.7 405.8 L882.5 409.6 L886.4 413.5 L890.2 415.4 L897.9 415.4 L905.6 411.5 L909.5 409.6 L913.3 413.5 L909.5 419.2 L905.6 423.1 M905.6 409.6 L909.5 407.7 L913.3 409.6 L917.2 415.4 L913.3 419.2 M489.2 400.0 L490.8 411.5 L491.5 417.3 L489.2 428.8 L489.2 438.5 L488.3 450.0 L490.2 457.7 L489.2 465.4 L489.6 473.1 L491.2 480.8 L494.0 488.5 L496.9 496.2 L501.7 503.8 L503.7 511.5 L506.5 519.2 L510.4 526.9 L513.3 534.6 L517.1 540.4 L523.8 544.2 L529.6 548.1 L534.4 553.8 L536.3 561.5 M496.9 400.0 L498.8 404.8 L500.8 405.8 L501.7 401.9 M728.8 451.2 L729.4 458.6 L730.7 465.0 L733.4 465.5 L737.3 462.9 L738.0 457.6 L739.9 453.3 L739.9 447.0 L738.3 441.7 L739.3 437.4 L741.3 431.1 L744.6 427.9 L747.8 424.7 L749.5 421.5 L744.6 418.9 L738.0 421.0 L734.7 422.6 L730.7 428.9 L728.1 434.2 L731.4 432.1 L734.7 426.8 L731.4 437.4 L730.1 442.7 L728.8 451.2 M749.5 421.5 L754.4 419.9 L757.7 419.9 L764.3 418.3 L769.5 418.3 L774.1 420.5 L778.7 420.5 L780.7 426.8 L781.4 432.1 L776.8 434.2 L772.2 427.9 L769.5 431.1 L769.5 436.4 L770.2 441.7 L768.9 447.0 L764.9 451.2 L763.6 447.0 L761.6 440.6 L758.4 441.7 L755.1 444.8 L757.7 437.4 L758.4 431.1 L757.0 425.8 L749.5 421.5 M758.0 464.7 L763.0 467.1 L769.5 467.1 L777.4 462.3 L782.0 459.7 L788.0 452.3 L784.0 452.8 L777.4 455.4 L770.9 455.4 L764.3 461.8 L760.3 461.8 L758.0 464.7 M782.0 448.0 L784.7 444.3 L790.6 441.7 L797.2 440.6 L804.4 438.5 L805.7 444.8 L801.1 448.0 L796.5 448.6 L788.0 447.5 L782.0 448.0 M804.4 438.5 L810.3 432.1 L815.6 430.0 L822.8 424.7 L830.0 416.2 L838.6 410.9 L846.5 403.5 L853.1 394.0 L859.6 387.6 L869.5 385.5 L882.6 387.6 M701.8 412.0 L708.4 409.9 L712.3 413.4 L721.5 409.9 L725.5 405.6 L728.8 404.0 L726.1 407.7 L732.1 414.1 L738.0 414.6 L747.8 411.4 L751.1 414.1 L750.5 408.8 L747.8 399.3 L741.3 390.8 L734.7 389.7 L728.1 390.8 L720.2 394.0 L717.6 398.2 L711.7 401.4 L705.1 407.7 L701.8 412.0 M866.2 431.1 L862.9 435.3 L857.7 437.4 L853.1 439.5 L847.8 442.7 L845.2 444.8 L841.9 450.1 L841.2 452.6 L842.5 455.4 L839.9 458.1 L842.5 461.8 L843.2 464.4 L846.5 464.4 L846.5 461.3 L846.8 465.5 L842.5 466.6 L839.2 467.1 L837.3 467.6 L834.0 469.2 L827.4 469.8 L822.1 472.9 L820.2 476.6 L820.2 480.9 L819.5 485.6 L817.5 489.9 L813.9 494.3 L810.3 489.4 L810.0 487.2 L811.0 492.5 L812.9 495.7 L813.3 499.4 L812.3 504.2 L809.7 508.4 L807.4 513.7 L807.0 509.5 L805.1 504.2 L804.4 500.0 L804.4 491.5 L806.4 488.3 L807.7 493.6 L807.0 501.0 L805.1 506.3 L805.1 514.8 L807.0 515.9 L807.7 519.6 L810.3 527.5 L810.3 533.9 L803.7 539.2 L797.8 541.3 L794.2 548.2 L790.3 548.1 L786.0 555.1 L781.4 559.8 L776.1 564.6 L773.5 567.3 L771.2 581.6 L771.5 589.0 L774.1 597.5 L776.8 606.0 L780.1 620.8 L780.4 626.1 L780.1 633.5 L778.1 639.9 L773.5 640.9 L769.5 632.5 L767.6 626.1 L763.6 615.5 L762.3 608.1 L763.0 599.6 L757.7 592.2 L754.4 587.9 L751.8 590.1 L745.2 592.2 L741.3 585.8 L733.4 584.8 L728.1 581.6 L725.5 584.8 L717.6 586.9 L715.0 585.8 L716.9 589.0 L718.9 594.3 L720.2 598.5 L716.9 596.4 L713.0 598.5 L707.1 597.5 L701.8 593.2 L695.2 591.6 L689.6 592.2 L684.1 595.9 L678.8 601.7 L672.9 606.0 L667.6 613.4 L666.3 622.9 L667.9 631.9 L665.0 647.3 L663.7 668.5 L666.3 684.4 L672.2 696.1 L674.8 703.5 L680.8 708.8 L685.4 714.6 L691.9 712.0 L698.5 709.8 L705.1 710.9 L709.7 700.3 L712.3 686.5 L717.6 681.2 L728.1 679.1 L734.7 679.1 L736.0 686.5 L731.4 700.3 L729.4 710.9 L726.8 721.5 L724.8 735.3 L726.8 740.6 L731.4 739.5 L741.3 738.5 L751.1 739.5 L759.7 748.0 L757.7 758.6 L757.0 774.5 L756.4 790.4 L761.0 801.0 L766.3 811.6 M536.6 562.2 L540.0 569.9 L544.0 583.7 L546.0 592.2 L553.8 604.9 L556.5 610.2 L555.2 618.7 L563.7 624.0 L569.0 636.7 L570.9 647.3 L581.5 660.0 L587.4 664.3 L587.4 657.9 L581.5 650.5 L578.8 642.0 L575.5 633.5 L570.9 624.0 L565.7 614.4 L562.4 604.9 L557.8 594.3 L552.5 583.7 L551.9 573.1 L552.5 569.9 L563.7 576.3 L569.0 594.3 L576.9 611.3 L586.7 626.1 L593.3 638.8 L599.9 647.3 L607.1 661.1 L613.0 673.8 L614.3 684.4 L613.0 695.0 L620.3 704.5 L629.5 714.1 L639.3 720.4 L649.9 728.4 L662.4 735.3 L672.2 740.6 L680.8 737.4 L688.7 736.3 L698.5 752.2 L705.1 758.6 L715.0 761.8 L724.8 767.1 L731.4 769.2 L734.7 775.6 L738.0 780.9 L743.2 790.4 L743.2 801.0 L746.5 806.3 M748.2 675.4 L752.4 673.8 L759.7 664.3 L764.9 661.6 L772.8 662.1 L780.7 664.3 L790.6 670.6 L799.1 678.0 L809.0 683.3 L818.9 692.4 L813.6 696.1 L795.8 696.6 L799.1 688.6 L793.9 687.6 L784.0 678.0 L777.4 673.8 L768.9 671.7 L762.3 666.4 L755.1 671.7 Z M761.6 674.9 L763.6 678.6 L760.3 679.1 Z M816.9 712.0 L824.8 699.2 L826.8 696.1 L835.3 696.1 L846.5 698.2 L853.1 702.4 L857.7 709.8 L847.1 712.0 L837.3 720.4 L830.0 714.1 L818.2 716.2 Z M791.6 713.0 L800.4 710.9 L805.7 716.2 L800.4 718.3 L791.9 714.1 Z M864.6 712.0 L875.4 712.0 L875.4 716.2 L864.9 716.2 Z M793.9 639.9 L795.8 647.3 L792.6 652.6 L791.2 646.2 Z M787.3 624.0 L793.9 625.0 L789.3 626.1 Z M799.1 621.9 L800.4 629.3 L798.5 626.1 Z M822.1 682.3 L826.8 684.4 L823.5 685.5 Z M901.7 734.2 L904.3 735.3 L902.4 737.9 Z M902.4 792.5 L905.7 799.9 L899.7 799.9 L902.4 792.5 M899.1 794.6 L892.5 793.6 L884.6 794.6 L878.0 799.9 L871.5 794.6 L862.9 795.2 L857.7 792.5 L854.4 786.2 L847.8 785.1 L845.2 778.7 L846.5 785.1 L843.2 788.3 L837.3 791.5 L834.0 784.0 L837.9 776.6 L832.0 780.9 L826.8 787.2 L818.9 788.3 L811.6 794.6 L809.7 803.1 M836.0 792.5 L836.6 801.0 L839.9 803.1 M281.6 692.9 L287.5 698.2 L283.6 706.1 L280.6 698.2 Z M276.3 685.5 L280.9 686.5 L278.3 688.6 Z M265.8 678.0 L269.8 681.2 L267.1 681.2 Z M256.0 672.7 L259.2 671.7 L257.9 674.9 Z M242.7 319.3 L251.2 315.1 L258.3 310.8 L265.4 306.6 L272.5 303.7 L278.2 299.5 L279.6 296.7 L286.7 293.8 L292.3 289.6 L298.0 285.3 L296.6 281.1 L293.7 279.7 L298.0 275.4 L303.7 268.3 L309.3 264.1 L315.0 258.4 L320.7 258.4 L326.3 261.2 L322.1 262.7 L317.8 264.1 L313.6 268.3 L310.7 274.0 L309.3 279.7 L312.2 279.7 L315.0 275.4 L320.7 272.6 L326.3 271.2 L332.0 269.7 L334.8 268.3 L330.6 265.5 L332.0 261.2 L334.8 259.8 L337.6 261.2 L343.3 264.1 L349.0 266.9 L354.6 266.9 L358.9 269.7 L364.6 271.2 L371.6 271.2 L377.3 271.2 L383.0 269.7 L385.8 271.2 L391.5 274.0 L400.0 276.8 M230.0 272.6 L239.9 269.7 L242.7 275.4 L244.2 283.9 L251.2 282.5 L258.3 283.9 L264.0 282.5 L266.8 283.9 L273.9 283.9 L272.5 288.2 L269.7 293.8 L265.4 299.5 L258.3 303.7 L251.2 308.0 L244.2 312.2 L237.1 316.5 L230.0 319.3 M290.9 299.5 L295.2 296.7 L300.8 293.8 L303.7 291.0 L306.5 289.6 L305.1 293.8 L302.2 298.1 L298.0 302.3 L293.7 302.3 Z M230.0 261.2 L232.8 264.1 M913.0 440.0 L915.0 440.0 L915.0 442.0 L913.0 442.0 Z M868.0 546.0 L870.0 546.0 L870.0 548.0 L868.0 548.0 Z M487.1 118.4 L492.8 117.7 L501.3 117.7 L511.3 117.0 L518.4 120.5 L524.1 122.0 L534.0 122.0 L541.1 124.1 L546.8 126.2 L541.1 127.6 L534.0 130.5 L526.9 134.8 L521.2 139.0 L516.9 141.9 L515.5 146.1 L509.8 149.0 L504.1 150.4 L498.4 153.3 L494.2 151.8 L491.3 149.0 L487.1 146.1 L481.4 144.0 L484.2 139.0 L485.6 134.8 L489.9 130.5 L492.8 126.2 L491.3 123.4 L488.5 121.2 Z M525.5 144.7 L529.7 140.4 L535.4 134.8 L544.0 130.5 L551.1 129.1 L555.3 130.5 L556.8 135.5 L555.3 137.6 L561.0 134.8 L566.7 133.3 L573.8 139.0 L579.5 137.6 L582.4 133.3 L588.1 134.8 L592.3 136.2 L595.2 141.9 L598.0 146.1 L600.9 144.7 L596.6 136.2 L596.6 129.1 L602.3 130.5 L606.6 127.6 L612.2 126.2 L619.4 126.9 L619.4 130.5 L615.1 133.3 L615.1 137.6 L617.9 143.3 L620.8 149.0 L619.4 153.3 L623.6 156.1 L627.9 158.9 L633.6 160.4 L640.0 161.8 M525.5 144.7 L529.7 147.6 L534.0 150.4 L541.1 149.7 L548.2 150.4 L541.1 151.8 L535.4 153.3 L529.7 154.7 L534.0 157.5 L544.0 158.9 L555.3 158.9 L566.7 160.4 L573.8 161.8 L569.6 163.2 L555.3 161.8 L541.1 163.2 L535.4 166.1 L541.1 168.9 L549.7 171.7 L558.2 174.6 L562.5 177.4 L569.6 178.9 L576.7 178.9 L583.8 177.4 L590.9 176.0 L598.0 174.6 L605.1 171.7 L609.4 170.3 L612.2 173.2 L619.4 176.0 L626.5 177.4 L633.6 177.4 L640.0 178.9 M465.7 158.9 L470.0 161.8 L472.8 166.1 L478.5 170.3 L484.2 173.2 L488.5 166.1 L491.3 171.7 L498.4 168.9 L505.6 167.5 L512.7 170.3 L526.9 174.6 L534.0 177.4 L541.1 177.4 L552.5 178.9 L555.3 183.1 L548.2 186.0 L549.7 188.8 L558.2 190.2 L569.6 188.8 L581.0 187.4 L588.1 188.8 L593.8 194.5 L598.0 197.3 L600.9 201.6 L602.3 195.9 L599.4 191.7 L605.1 188.8 L609.4 186.0 L612.2 183.1 L619.4 184.5 L626.5 187.4 L633.6 188.8 L640.0 190.2 M595.2 181.7 L600.9 178.9 L608.0 177.4 L612.2 178.9 L610.8 181.7 L605.1 183.1 L598.0 184.5 Z M556.8 113.4 L561.0 117.7 L569.6 118.4 L578.1 116.3 L586.6 113.4 M633.6 131.9 L637.9 130.5 L640.0 129.8 M632.2 134.8 L635.0 137.6 L640.0 139.0 M627.9 168.9 L632.2 167.5 L636.4 166.8 L640.0 167.5 M643.3 124.7 L650.0 124.0 L656.7 125.3 L663.3 124.7 L670.0 125.3 L667.3 129.3 L662.0 132.0 L666.0 134.7 L672.7 138.7 L674.0 142.7 L670.0 146.7 L666.0 149.3 L662.0 146.7 L659.3 150.7 L656.7 150.7 L652.7 146.7 L647.3 142.7 L640.7 138.7 L635.3 137.3 L632.7 134.7 L636.7 132.0 L643.3 133.3 L647.3 130.7 L644.7 128.0 L640.7 126.7 Z M680.7 125.3 L686.0 122.7 L692.7 123.3 L700.7 124.0 L707.3 123.3 L712.7 124.7 L707.3 129.3 L702.0 132.0 L696.7 134.7 L691.3 136.0 L688.7 138.7 L686.0 142.7 L682.0 141.3 L679.3 136.0 L679.3 130.7 Z M672.7 154.7 L676.7 149.3 L683.3 146.7 L690.0 148.0 L695.3 152.0 L699.3 157.3 L703.3 162.7 L699.3 165.3 L694.0 168.0 L688.7 169.3 L683.3 168.0 L678.0 165.3 L674.0 161.3 Z M654.0 174.7 L660.7 169.3 L667.3 168.0 L674.0 172.0 L679.3 177.3 L686.0 174.7 L691.3 172.0 L695.3 173.3 L694.0 180.0 L688.7 184.0 L683.3 186.7 L680.7 192.0 L682.0 197.3 L678.0 194.7 L675.3 189.3 L670.0 188.0 L666.0 186.7 L662.0 184.0 L664.7 181.3 L659.3 178.7 Z M630.0 160.0 L638.0 162.7 L643.3 165.3 L643.3 170.7 L638.0 173.3 L632.7 174.7 L630.0 176.0 M716.7 148.0 L718.0 141.3 L722.0 134.7 L727.3 129.3 L735.3 126.7 L743.3 125.3 L746.0 126.7 L739.3 132.0 L738.0 137.3 L742.0 142.7 L744.7 146.7 L747.3 150.7 L750.0 153.3 L746.0 154.7 L742.0 150.7 L739.3 146.7 L736.7 145.3 M720.7 152.0 L723.3 157.3 L730.0 160.0 L736.7 162.7 L742.0 164.0 L750.0 164.7 L756.7 165.3 L763.3 165.3 L770.0 166.7 L776.7 165.3 L783.3 160.0 L790.0 158.7 M747.3 132.0 L752.7 128.0 L760.7 126.7 L768.7 126.0 L774.0 128.0 L776.7 132.0 L779.3 138.7 L776.7 142.7 L774.0 141.3 L775.3 136.0 L771.3 133.3 L764.7 134.7 L758.0 136.0 L752.7 138.7 L750.0 142.7 L752.7 146.7 L750.0 150.7 L746.0 148.0 L744.7 142.7 L746.0 137.3 M746.0 168.0 L752.7 169.3 L758.0 172.0 L763.3 172.0 L770.0 173.3 L772.7 177.3 L768.7 180.0 L764.7 181.3 L767.3 186.7 L772.7 190.7 L774.0 194.7 L770.0 198.7 L763.3 202.7 L758.0 204.0 L752.7 200.0 L748.7 197.3 M710.0 168.0 L712.7 172.0 L716.7 176.0 L720.7 173.3 L726.0 176.0 L730.0 181.3 L731.3 189.3 L735.3 193.3 L739.3 192.0 L744.7 186.7 L748.7 182.7 L750.0 178.7 L746.0 174.7 L747.3 170.7 M736.0 184.7 L738.0 184.7 L738.0 186.7 L736.0 186.7 Z M710.0 208.0 L716.7 209.3 L723.3 212.0 L730.0 214.7 L736.7 217.3 M736.7 202.7 L743.3 201.3 L750.0 198.7 L755.3 202.7 L758.0 208.0 L756.7 210.7 M743.3 208.0 L746.0 213.3 L750.0 218.7 L756.7 221.3 L763.3 222.7 L770.0 225.3 M694.0 229.3 L700.7 230.7 L710.0 232.0 M630.0 186.7 L636.7 188.0 L643.3 189.3 L651.3 188.0 L659.3 184.0 L666.0 184.0 L670.0 186.7 L674.0 190.7 L678.0 194.7" fill="none" stroke="#000" stroke-width="2" stroke-linejoin="round" stroke-linecap="round" shape-rendering="crispEdges"/>
<path d="M381.4 165.8 L381.4 262.0 M496.0 387.6 L681.1 387.6 L681.1 383.6 L683.4 384.4 L684.7 390.8 L693.9 391.8 L705.8 397.7 L715.0 397.1 L718.2 398.2 M491.4 416.8 L495.3 417.3 L498.6 418.3 L499.6 423.1 L503.2 423.6 L509.8 423.1 L516.4 422.1 L522.3 419.9 L524.4 419.4 L537.9 419.4 M537.1 387.6 L537.1 414.8 L537.9 419.4 L540.8 424.0 L539.4 428.9 L538.4 432.1 L536.1 437.4 L537.4 440.6 L537.2 442.7 L537.2 461.8 M490.1 461.8 L576.5 461.8 M543.7 387.6 L543.7 398.4 L546.0 404.0 L548.6 406.1 L553.2 412.5 L554.8 413.0 L553.8 419.4 L554.5 424.2 L558.5 423.6 L560.8 431.6 L563.7 435.8 L565.0 436.4 L567.7 435.8 L570.9 434.8 L574.2 433.2 L576.5 435.5 M576.5 430.0 L576.5 472.4 L622.6 472.4 M576.5 430.0 L622.6 430.0 M622.6 387.6 L622.6 472.4 L635.7 472.4 L635.7 514.8 M589.7 472.4 L589.7 574.9 M556.8 461.8 L556.8 523.8 L552.2 524.6 L553.0 536.0 M517.7 461.8 L517.7 493.6 L553.0 536.0 L554.2 540.2 L556.1 543.4 L554.2 547.1 L552.4 553.0 L553.8 557.2 L552.4 560.2 M536.6 562.2 L552.4 560.2 L551.8 562.6 L576.4 574.9 L595.2 574.9 L595.2 570.1 L606.3 570.1 M556.8 514.8 L629.5 514.8 L629.5 520.1 L649.2 520.1 L649.2 540.7 L654.5 543.4 L659.1 545.5 L665.6 548.2 L671.6 548.2 L676.8 548.1 L680.8 547.1 L685.5 550.4 L688.4 551.4 L688.4 567.8 L690.0 578.4 L690.6 585.8 L689.6 592.2 M629.2 520.1 L629.1 567.8 L605.7 567.8 L606.3 570.1 M606.3 570.1 L608.4 573.6 L613.0 579.5 L617.0 582.6 L619.3 592.2 L622.9 596.4 L628.2 599.8 L631.4 592.2 L634.1 590.3 L640.0 591.4 L643.3 595.9 L647.2 607.0 L652.5 615.5 L655.1 626.1 L661.0 630.9 L665.6 632.5 L667.9 631.9 M635.7 483.0 L680.1 483.0 M635.7 514.8 L684.6 514.8 M622.6 420.0 L671.8 420.0 M622.6 451.2 L659.1 451.2 L665.6 452.8 L669.6 453.8 L672.5 456.5 M667.4 387.6 L669.6 403.5 L670.2 413.0 L671.8 420.0 L669.9 423.6 L672.5 426.8 L672.5 445.9 L671.6 456.5 L672.5 456.5 L675.5 463.9 L676.5 470.3 L677.0 476.9 L680.1 483.0 L682.7 488.3 L684.6 492.5 L684.6 514.8 L685.8 531.8 L685.5 550.4 M672.5 445.9 L706.9 445.9 M677.0 476.9 L705.8 476.9 L705.6 479.0 M701.8 412.0 L699.8 418.3 L697.2 423.6 L696.5 430.0 L699.8 435.3 L706.9 445.9 L707.4 453.8 L710.8 456.5 L713.6 463.9 L709.0 468.2 L707.7 475.6 L705.6 479.0 L705.1 483.0 L710.4 493.6 L713.6 497.8 L718.2 509.5 L720.5 514.8 L718.2 520.1 L716.9 525.4 L714.3 532.8 L713.0 536.0 L711.0 542.4 L707.4 557.2 L707.7 567.8 L704.4 578.4 L716.6 578.4 L717.6 586.9 M684.6 520.1 L714.0 520.1 L714.4 525.4 L716.9 525.4 M688.4 557.0 L707.3 557.2 M710.8 456.5 L729.4 456.5 M712.3 413.4 L714.3 416.2 L721.5 419.4 L728.1 421.5 L730.7 428.9 M731.2 464.3 L731.2 489.9 L730.7 496.8 L728.1 506.3 L727.5 509.5 M749.0 465.0 L749.0 492.5 M734.7 464.3 L749.2 464.7 L758.0 464.7 M720.5 514.8 L724.8 513.7 L727.5 509.5 L730.7 505.3 L738.0 505.3 L741.9 504.2 L745.2 496.8 L749.0 492.5 L752.4 494.7 L761.0 496.8 L763.6 500.0 L766.3 495.7 L769.5 491.5 L772.8 489.4 L775.5 486.2 L776.8 480.9 L777.3 476.2 M718.2 520.1 L727.8 520.1 L729.1 518.7 L756.6 519.0 L769.9 519.0 L807.7 519.6 M756.6 519.0 L763.6 512.7 L765.6 508.4 L763.6 502.1 L763.6 500.0 M713.0 536.0 L752.4 536.0 L760.3 536.0 M752.4 536.0 L760.3 529.6 L767.6 524.3 L769.9 519.0 M726.8 536.0 L725.0 568.9 L725.5 584.8 M743.9 536.0 L746.5 559.3 L747.8 564.6 L747.8 578.4 M730.7 578.4 L747.8 578.4 L748.5 581.6 L766.3 583.0 L767.6 580.5 L771.2 581.6 M760.3 536.0 L764.9 543.4 L768.2 554.0 L773.5 567.3 M760.3 536.0 L765.6 533.9 L773.8 534.4 L774.6 534.9 L775.5 538.1 L782.7 538.1 L790.3 548.1 M767.8 509.1 L774.1 511.6 L778.7 509.5 L781.4 502.1 L784.0 498.9 L788.0 494.7 L791.2 491.5 L795.2 490.4 M777.3 476.2 L777.3 486.0 L808.4 486.0 L808.4 499.4 L813.3 499.4 M784.1 491.5 L793.9 488.3 L797.2 491.5 L800.1 495.7 L805.1 504.2 M777.3 461.8 L777.3 476.2 M782.3 461.8 L811.3 461.8 L812.9 463.9 L815.6 468.7 L820.8 472.4 M815.6 468.7 L812.9 474.5 L814.9 480.9 L810.3 485.1 M824.5 430.0 L824.1 444.8 L825.1 453.8 L823.5 461.3 L822.4 471.3 L822.0 472.4 M836.6 430.0 L833.3 437.4 L830.4 450.1 L830.4 454.1 L825.1 454.1 M830.4 454.1 L837.9 454.4 L841.2 452.6 M839.4 426.8 L839.9 440.6 L841.9 450.1 M823.5 461.5 L834.6 461.5 L834.6 469.2 M815.6 430.0 L836.6 430.0 L839.4 426.8 L841.2 425.8 L844.5 420.5 L846.5 412.0 L851.7 404.0 L857.7 405.1 L860.9 408.1 L860.9 422.6 L863.6 427.9 L866.2 431.1 M700.5 753.3 L701.8 748.0 L703.8 736.3 L712.3 736.3 L712.3 718.3 L720.5 718.3 L726.1 710.9 M720.5 718.3 L720.2 738.5 L726.8 740.6 M720.2 738.5 L719.2 754.4 L714.3 761.2 M719.2 754.4 L729.4 759.7 L729.4 765.0 M732.7 769.4 L741.3 759.7 L747.8 755.4 L759.7 748.0 M743.2 789.3 L754.4 791.5 L756.4 791.5 M833.3 697.1 L835.6 716.2 M803.1 636.7 L806.4 642.0 L805.1 645.2 M809.7 650.5 L812.3 656.8 L813.6 662.1 M807.0 655.8 L808.3 659.0 M831.4 675.9 L834.6 674.9 M900.4 725.7 L901.1 726.8 M903.0 741.6 L903.7 745.9 M904.3 749.6 L906.3 753.3 M905.7 758.6 L906.3 761.8 M900.7 777.7 L901.7 779.8 M914.9 766.0 L915.9 768.7 M907.0 787.2 L909.0 788.3 M859.6 777.7 L853.1 776.6 M846.5 773.4 L846.2 775.0 M272.4 682.3 L276.3 683.3" fill="none" stroke="#000" stroke-width="2" stroke-linejoin="round" shape-rendering="crispEdges"/>

<path d="M373.4 164.8 L470.0 155.0 L885.3 260.7 L911.7 313.9 L938.1 335.0 L964.5 397.3 L958.2 419.4 L931.8 408.9 L872.5 450.8 L860.0 420.0 L859.2 409.2 L854.2 409.2 L840.0 430.3 L813.3 430.3 L787.5 451.7 L759.2 417.5 L701.7 388.3 L491.1 388.4 L484.4 397.4 L431.3 344.2 L425.3 323.7 L445.8 323.7 L445.8 314.0 L419.2 281.4 L404.7 281.4 L373.3 271.3 Z" fill="none" stroke="#00ffff" stroke-width="1" stroke-linejoin="miter" shape-rendering="crispEdges"/>
<path d="M274.4 144.3 L378.9 164.8 L379.8 261.1 L398.7 271.3 L419.2 271.7 L451.9 314.0 L451.9 335.1 L437.4 335.1 L425.3 324.9 L385.4 281.4 L346.3 271.7 L340.7 282.6 L319.7 282.6 L294.8 314.0 L280.3 303.6 L261.0 323.7 L195.0 356.3 L195.0 335.8 L262.2 303.2 L267.5 292.3 L247.7 292.3 L221.1 271.7 L215.8 282.1 L202.2 271.3 L215.8 260.9 L208.4 250.1 L234.1 229.6 L208.4 229.0 L196.1 208.5 L221.3 197.5 L208.4 187.8 L208.4 176.8 Z" fill="none" stroke="#ffff00" stroke-width="1" stroke-linejoin="miter" shape-rendering="crispEdges"/>
<path d="M484.4 377.6 L728.7 377.4 L759.2 418.3 L767.0 430.0 L767.5 450.8 L760.8 462.0 L767.5 462.5 L782.5 448.3 L787.5 441.3 L799.2 441.3 L807.5 430.3 L834.2 430.3 L835.0 426.7 L854.2 398.3 L859.7 398.3 L866.3 409.2 L866.7 420.0 L872.5 430.0 L872.5 441.7 L846.7 451.3 L853.3 471.7 L827.0 483.0 L814.0 514.0 L814.0 537.0 L774.0 579.0 L787.0 642.0 L767.0 642.0 L755.0 599.5 L696.3 599.3 L676.3 610.0 L668.8 641.3 L655.0 628.8 L642.5 599.3 L622.5 598.8 L610.0 578.3 L575.0 577.5 L517.5 557.0 L484.5 484.5 Z" fill="none" stroke="#ffff00" stroke-width="1" stroke-linejoin="miter" shape-rendering="crispEdges"/>
<text x="162" y="529.7" font-family="Liberation Mono" font-size="12.7" letter-spacing="1.38" fill="#000" xml:space="preserve">Percent| CONUS   | Alaska  | Canada</text>
<text x="162" y="551.3" font-family="Liberation Mono" font-size="12.7" letter-spacing="1.38" fill="#000" xml:space="preserve"> Avail.|Coverage |Coverage | Coverage</text>
<path d="M163 557h339" stroke="#000" stroke-width="1.3" stroke-dasharray="6 3"/>
<text x="162" y="572.8" font-family="Liberation Mono" font-size="12.7" letter-spacing="1.38" fill="#000" xml:space="preserve">  95   | 100.00%  | 99.32% | 100.00%</text>
<text x="162" y="593.8" font-family="Liberation Mono" font-size="12.7" letter-spacing="1.38" fill="#000" xml:space="preserve">  98   | 100.00%  | 97.99% | 100.00%</text>
<text x="162" y="614.8" font-family="Liberation Mono" font-size="12.7" letter-spacing="1.38" fill="#000" xml:space="preserve">  99   | 100.00%  | 97.34% | 100.00%</text>
<text x="162" y="635.8" font-family="Liberation Mono" font-size="12.7" letter-spacing="1.38" fill="#000" xml:space="preserve">99.9   | 99.32%  | 97.01% | 100.00%</text>
<text x="162" y="656.8" font-family="Liberation Mono" font-size="12.7" letter-spacing="1.38" fill="#000" xml:space="preserve"> 100   | 99.09%  | 97.01% | 100.00%</text>
<text x="187.5" y="747" font-family="Liberation Mono" font-size="11.5" letter-spacing="-0.9" fill="#000" xml:space="preserve">W.J.H. FAA Technical Center</text>
<text x="187.5" y="759" font-family="Liberation Mono" font-size="11.5" letter-spacing="-0.9" fill="#000" xml:space="preserve">WAAS Test Team</text>
</g>
<rect x="156.5" y="112.5" width="822" height="689" fill="none" stroke="#000" stroke-width="1"/>
<rect x="1011" y="791.25" width="41" height="11.25" fill="#00008f" shape-rendering="crispEdges"/>
<rect x="1011" y="780.50" width="41" height="11.25" fill="#00009f" shape-rendering="crispEdges"/>
<rect x="1011" y="769.75" width="41" height="11.25" fill="#0000af" shape-rendering="crispEdges"/>
<rect x="1011" y="759.00" width="41" height="11.25" fill="#0000bf" shape-rendering="crispEdges"/>
<rect x="1011" y="748.25" width="41" height="11.25" fill="#0000cf" shape-rendering="crispEdges"/>
<rect x="1011" y="737.50" width="41" height="11.25" fill="#0000df" shape-rendering="crispEdges"/>
<rect x="1011" y="726.75" width="41" height="11.25" fill="#0000ef" shape-rendering="crispEdges"/>
<rect x="1011" y="716.00" width="41" height="11.25" fill="#0000ff" shape-rendering="crispEdges"/>
<rect x="1011" y="705.25" width="41" height="11.25" fill="#0010ff" shape-rendering="crispEdges"/>
<rect x="1011" y="694.50" width="41" height="11.25" fill="#0020ff" shape-rendering="crispEdges"/>
<rect x="1011" y="683.75" width="41" height="11.25" fill="#0030ff" shape-rendering="crispEdges"/>
<rect x="1011" y="673.00" width="41" height="11.25" fill="#0040ff" shape-rendering="crispEdges"/>
<rect x="1011" y="662.25" width="41" height="11.25" fill="#0050ff" shape-rendering="crispEdges"/>
<rect x="1011" y="651.50" width="41" height="11.25" fill="#0060ff" shape-rendering="crispEdges"/>
<rect x="1011" y="640.75" width="41" height="11.25" fill="#0070ff" shape-rendering="crispEdges"/>
<rect x="1011" y="630.00" width="41" height="11.25" fill="#0080ff" shape-rendering="crispEdges"/>
<rect x="1011" y="619.25" width="41" height="11.25" fill="#008fff" shape-rendering="crispEdges"/>
<rect x="1011" y="608.50" width="41" height="11.25" fill="#009fff" shape-rendering="crispEdges"/>
<rect x="1011" y="597.75" width="41" height="11.25" fill="#00afff" shape-rendering="crispEdges"/>
<rect x="1011" y="587.00" width="41" height="11.25" fill="#00bfff" shape-rendering="crispEdges"/>
<rect x="1011" y="576.25" width="41" height="11.25" fill="#00cfff" shape-rendering="crispEdges"/>
<rect x="1011" y="565.50" width="41" height="11.25" fill="#00dfff" shape-rendering="crispEdges"/>
<rect x="1011" y="554.75" width="41" height="11.25" fill="#00efff" shape-rendering="crispEdges"/>
<rect x="1011" y="544.00" width="41" height="11.25" fill="#00ffff" shape-rendering="crispEdges"/>
<rect x="1011" y="533.25" width="41" height="11.25" fill="#10ffef" shape-rendering="crispEdges"/>
<rect x="1011" y="522.50" width="41" height="11.25" fill="#20ffdf" shape-rendering="crispEdges"/>
<rect x="1011" y="511.75" width="41" height="11.25" fill="#30ffcf" shape-rendering="crispEdges"/>
<rect x="1011" y="501.00" width="41" height="11.25" fill="#40ffbf" shape-rendering="crispEdges"/>
<rect x="1011" y="490.25" width="41" height="11.25" fill="#50ffaf" shape-rendering="crispEdges"/>
<rect x="1011" y="479.50" width="41" height="11.25" fill="#60ff9f" shape-rendering="crispEdges"/>
<rect x="1011" y="468.75" width="41" height="11.25" fill="#70ff8f" shape-rendering="crispEdges"/>
<rect x="1011" y="458.00" width="41" height="11.25" fill="#80ff80" shape-rendering="crispEdges"/>
<rect x="1011" y="447.25" width="41" height="11.25" fill="#8fff70" shape-rendering="crispEdges"/>
<rect x="1011" y="436.50" width="41" height="11.25" fill="#9fff60" shape-rendering="crispEdges"/>
<rect x="1011" y="425.75" width="41" height="11.25" fill="#afff50" shape-rendering="crispEdges"/>
<rect x="1011" y="415.00" width="41" height="11.25" fill="#bfff40" shape-rendering="crispEdges"/>
<rect x="1011" y="404.25" width="41" height="11.25" fill="#cfff30" shape-rendering="crispEdges"/>
<rect x="1011" y="393.50" width="41" height="11.25" fill="#dfff20" shape-rendering="crispEdges"/>
<rect x="1011" y="382.75" width="41" height="11.25" fill="#efff10" shape-rendering="crispEdges"/>
<rect x="1011" y="372.00" width="41" height="11.25" fill="#ffff00" shape-rendering="crispEdges"/>
<rect x="1011" y="361.25" width="41" height="11.25" fill="#ffef00" shape-rendering="crispEdges"/>
<rect x="1011" y="350.50" width="41" height="11.25" fill="#ffdf00" shape-rendering="crispEdges"/>
<rect x="1011" y="339.75" width="41" height="11.25" fill="#ffcf00" shape-rendering="crispEdges"/>
<rect x="1011" y="329.00" width="41" height="11.25" fill="#ffbf00" shape-rendering="crispEdges"/>
<rect x="1011" y="318.25" width="41" height="11.25" fill="#ffaf00" shape-rendering="crispEdges"/>
<rect x="1011" y="307.50" width="41" height="11.25" fill="#ff9f00" shape-rendering="crispEdges"/>
<rect x="1011" y="296.75" width="41" height="11.25" fill="#ff8f00" shape-rendering="crispEdges"/>
<rect x="1011" y="286.00" width="41" height="11.25" fill="#ff8000" shape-rendering="crispEdges"/>
<rect x="1011" y="275.25" width="41" height="11.25" fill="#ff7000" shape-rendering="crispEdges"/>
<rect x="1011" y="264.50" width="41" height="11.25" fill="#ff6000" shape-rendering="crispEdges"/>
<rect x="1011" y="253.75" width="41" height="11.25" fill="#ff5000" shape-rendering="crispEdges"/>
<rect x="1011" y="243.00" width="41" height="11.25" fill="#ff4000" shape-rendering="crispEdges"/>
<rect x="1011" y="232.25" width="41" height="11.25" fill="#ff3000" shape-rendering="crispEdges"/>
<rect x="1011" y="221.50" width="41" height="11.25" fill="#ff2000" shape-rendering="crispEdges"/>
<rect x="1011" y="210.75" width="41" height="11.25" fill="#ff1000" shape-rendering="crispEdges"/>
<rect x="1011" y="200.00" width="41" height="11.25" fill="#ff0000" shape-rendering="crispEdges"/>
<rect x="1011" y="189.25" width="41" height="11.25" fill="#ef0000" shape-rendering="crispEdges"/>
<rect x="1011" y="178.50" width="41" height="11.25" fill="#df0000" shape-rendering="crispEdges"/>
<rect x="1011" y="167.75" width="41" height="11.25" fill="#cf0000" shape-rendering="crispEdges"/>
<rect x="1011" y="157.00" width="41" height="11.25" fill="#bf0000" shape-rendering="crispEdges"/>
<rect x="1011" y="146.25" width="41" height="11.25" fill="#af0000" shape-rendering="crispEdges"/>
<rect x="1011" y="135.50" width="41" height="11.25" fill="#9f0000" shape-rendering="crispEdges"/>
<rect x="1011" y="124.75" width="41" height="11.25" fill="#8f0000" shape-rendering="crispEdges"/>
<rect x="1011" y="114.00" width="41" height="11.25" fill="#800000" shape-rendering="crispEdges"/>
<rect x="1010.5" y="113.5" width="42" height="689" fill="none" stroke="#000" stroke-width="1"/>
<path d="M1011 733.5h6M1046 733.5h6" stroke="#000" stroke-width="1"/>
<path d="M1011 664.5h6M1046 664.5h6" stroke="#000" stroke-width="1"/>
<path d="M1011 595.5h6M1046 595.5h6" stroke="#000" stroke-width="1"/>
<path d="M1011 526.5h6M1046 526.5h6" stroke="#000" stroke-width="1"/>
<path d="M1011 457.5h6M1046 457.5h6" stroke="#000" stroke-width="1"/>
<path d="M1011 388.5h6M1046 388.5h6" stroke="#000" stroke-width="1"/>
<path d="M1011 319.5h6M1046 319.5h6" stroke="#000" stroke-width="1"/>
<path d="M1011 250.5h6M1046 250.5h6" stroke="#000" stroke-width="1"/>
<path d="M1011 181.5h6M1046 181.5h6" stroke="#000" stroke-width="1"/>
</svg>
<div class="t" style="top:1.7px">WAAS LPV200 Coverage Contours</div>
<div class="t" style="top:27.3px">01/26/25</div>
<div class="t" style="top:52.8px">Week 2351 Day 0</div>
<div class="yl" style="top:788.7px">10</div>
<div class="yl" style="top:682.5px">20</div>
<div class="yl" style="top:576.3px">30</div>
<div class="yl" style="top:470.1px">40</div>
<div class="yl" style="top:363.9px">50</div>
<div class="yl" style="top:257.7px">60</div>
<div class="yl" style="top:151.5px">70</div>
<div class="xl" style="left:207.0px">-160</div>
<div class="xl" style="left:338.7px">-140</div>
<div class="xl" style="left:470.4px">-120</div>
<div class="xl" style="left:602.1px">-100</div>
<div class="xl" style="left:733.8px">-80</div>
<div class="xl" style="left:865.5px">-60</div>
<div class="cbl" style="top:788.5px">0</div>
<div class="cbl" style="top:719.5px">0.1</div>
<div class="cbl" style="top:650.5px">0.2</div>
<div class="cbl" style="top:581.5px">0.3</div>
<div class="cbl" style="top:512.5px">0.4</div>
<div class="cbl" style="top:443.5px">0.5</div>
<div class="cbl" style="top:374.6px">0.6</div>
<div class="cbl" style="top:305.6px">0.7</div>
<div class="cbl" style="top:236.6px">0.8</div>
<div class="cbl" style="top:167.6px">0.9</div>
<div class="cbl" style="top:98.6px">1</div>
<div class="ax" style="left:521px;top:828px">Longitude</div>
<div class="ax" style="left:96px;top:498px;transform-origin:0 0;transform:rotate(-90deg);">Latitude</div>
</body></html>
